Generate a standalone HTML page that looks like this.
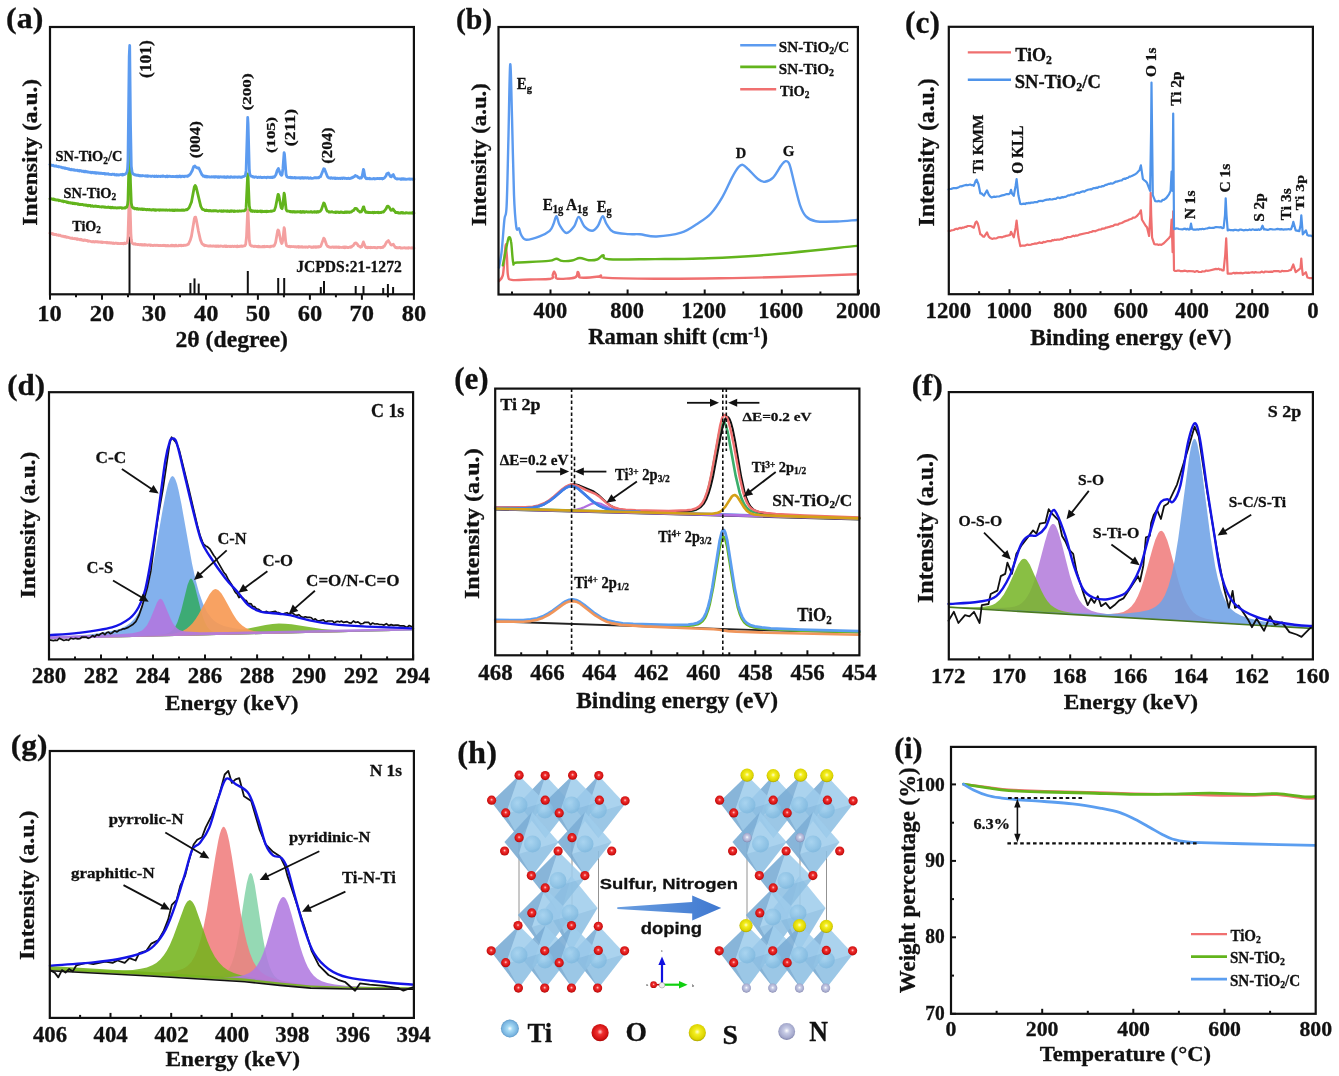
<!DOCTYPE html>
<html><head><meta charset="utf-8"><style>
html,body{margin:0;padding:0;background:#fff;}
svg{display:block;filter:blur(0.4px);}
</style></head><body>
<svg width="1339" height="1076" viewBox="0 0 1339 1076">
<rect width="1339" height="1076" fill="#fff"/>
<line x1="129.5" y1="294.3" x2="129.5" y2="236.6" stroke="#111" stroke-width="2" />
<line x1="190.4" y1="294.3" x2="190.4" y2="283" stroke="#111" stroke-width="2" />
<line x1="194.5" y1="294.3" x2="194.5" y2="278.4" stroke="#111" stroke-width="2" />
<line x1="198.7" y1="294.3" x2="198.7" y2="283.6" stroke="#111" stroke-width="2" />
<line x1="247.8" y1="294.3" x2="247.8" y2="271" stroke="#111" stroke-width="2" />
<line x1="278.2" y1="294.3" x2="278.2" y2="278" stroke="#111" stroke-width="2" />
<line x1="284.2" y1="294.3" x2="284.2" y2="278" stroke="#111" stroke-width="2" />
<line x1="320.8" y1="294.3" x2="320.8" y2="287" stroke="#111" stroke-width="2" />
<line x1="324" y1="294.3" x2="324" y2="281" stroke="#111" stroke-width="2" />
<line x1="355.7" y1="294.3" x2="355.7" y2="286" stroke="#111" stroke-width="2" />
<line x1="363.5" y1="294.3" x2="363.5" y2="286" stroke="#111" stroke-width="2" />
<line x1="383.2" y1="294.3" x2="383.2" y2="288" stroke="#111" stroke-width="2" />
<line x1="387.9" y1="294.3" x2="387.9" y2="284" stroke="#111" stroke-width="2" />
<line x1="393.1" y1="294.3" x2="393.1" y2="287" stroke="#111" stroke-width="2" />
<path d="M50,233.1 L51.6,233.7 L52.4,233.5 L52.8,234.2 L53.6,233.9 L54,234.6 L54.4,234.3 L54.9,234.6 L56.1,234.4 L56.9,235.1 L58.1,235.2 L58.5,234.9 L58.9,235.5 L60.1,235.2 L60.5,235.9 L60.9,235.7 L62.5,236.4 L62.9,236.1 L64.2,236.8 L64.6,236.8 L65,236.4 L65.8,236.7 L66.2,237.3 L66.6,237 L67.4,237.1 L71.4,238.4 L72.2,238 L73,238.7 L74.3,238.7 L74.7,238.4 L75.1,238.9 L76.3,238.6 L77.1,239.4 L77.5,238.8 L77.9,239.4 L78.7,239.1 L79.9,239.8 L80.3,239.3 L80.7,239.7 L81.1,239.4 L81.5,240 L81.9,239.7 L82.8,240.3 L83.2,240.1 L83.6,240.5 L84.4,240 L84.8,240.4 L85.2,240.1 L86.4,240.7 L87.2,240.4 L87.6,241.1 L88,240.8 L88.4,241.3 L89.2,241 L92.1,241.8 L92.9,241.5 L93.3,241.8 L93.7,241.5 L94.5,242 L95.7,241.5 L96.5,241.9 L96.9,241.6 L97.7,242 L98.1,241.7 L98.5,242.1 L99.7,242 L100.5,242.3 L100.9,241.9 L101.4,241.9 L102.2,242.6 L102.6,242.1 L103.4,242.4 L105.8,242.4 L106.6,242.8 L107,242.3 L107.8,242.9 L108.6,242.6 L109,243 L109.8,242.6 L110.6,243.1 L111.1,242.7 L112.3,243.3 L112.7,243 L113.1,243.4 L113.5,242.9 L114.7,243.5 L115.9,243 L117.5,243.6 L117.9,243.2 L118.7,243.7 L119.5,243.7 L120.4,243.3 L121.2,243.7 L121.6,243.4 L123.2,243.5 L123.6,243.8 L124.4,243.1 L124.8,243.7 L125.6,243.6 L126,243.1 L126.4,243.2 L126.8,242.9 L127.6,240.7 L128,236.7 L129.2,195.7 L129.7,191.8 L130.9,233.5 L131.3,239.3 L131.7,242 L132.5,243.4 L134.1,244.2 L134.9,243.7 L135.3,244.3 L135.7,244 L136.5,244.4 L137.3,244.3 L137.7,244.7 L139,244.4 L139.4,244.8 L139.8,244.6 L140.2,244.8 L141,244.5 L141.8,245 L142.2,244.5 L143,245.1 L143.8,245.1 L144.2,244.5 L145,245.2 L145.4,244.6 L147.8,245.3 L148.3,244.8 L149.9,244.9 L150.3,245.6 L151.1,245 L151.5,245.3 L153.1,245.5 L155.1,245.2 L155.9,245.6 L156.7,245.2 L158.4,245.7 L158.8,245.4 L159.2,245.7 L160.4,245.4 L162,245.7 L162.8,245.4 L163.6,245.7 L164,245.2 L165.6,245.9 L166,245.5 L166.4,245.8 L168.1,245.3 L168.5,245.8 L170.5,245.8 L171.3,245.3 L171.7,245.7 L172.1,245.3 L172.9,245.8 L173.3,245.3 L174.1,245.3 L174.5,245.9 L175.3,245.3 L175.7,245.8 L176.2,245.3 L176.6,245.8 L177.8,245.9 L178.2,245.6 L178.6,245.8 L179,245.2 L179.4,245.7 L180.2,245.7 L180.6,245.3 L181.4,245.8 L181.8,245.2 L183,245.7 L183.8,245.2 L185,245.4 L187.1,244.8 L187.5,244.4 L188.3,244.3 L190.3,240.1 L191.5,236 L194.3,218.9 L194.8,217.4 L195.2,217.1 L195.6,217.2 L196.4,220.2 L198.4,231.1 L200.4,239.9 L202,243.7 L204.1,245.4 L204.5,245.1 L204.9,245.7 L205.3,245.4 L208.5,246.1 L208.9,245.8 L209.7,246.2 L210.5,245.7 L212.1,246.3 L213.4,245.8 L215.4,246.4 L215.8,245.9 L216.2,246.4 L216.6,246 L217.4,246.3 L217.8,245.9 L218.2,245.9 L218.6,246.4 L219,246 L220.2,246.3 L220.6,245.9 L221.4,246.2 L222.2,246.1 L223.1,246.6 L224.3,246 L225.1,246.4 L225.5,246 L225.9,246.6 L226.3,246.6 L226.7,246.1 L227.1,246.6 L227.5,246.3 L227.9,246.5 L228.7,246.2 L229.9,246.6 L230.3,246.2 L231.1,246.7 L232.4,246.1 L233.6,246.6 L234.8,246.2 L235.6,246.5 L236,246.2 L236.4,246.7 L237.2,246.1 L237.6,246.7 L238,246.2 L238.8,246.5 L241.7,246 L242.5,246.4 L244.1,245.8 L244.9,245.8 L245.7,244.2 L246.5,236.8 L247.7,209.8 L248.1,212.9 L249.3,240.3 L250.1,244.7 L251.4,246.1 L252.6,246 L253.8,246.6 L255,246.2 L256.6,246.6 L257,246.3 L257.8,246.7 L258.2,246.2 L258.6,246.8 L259.4,246.9 L259.8,246.5 L261.5,246.9 L262.3,246.5 L262.7,246.9 L263.1,246.6 L263.9,246.8 L264.3,246.3 L264.7,246.8 L266.7,246.4 L267.1,246.6 L267.5,246.3 L269.6,246.9 L270.4,246.2 L270.8,246.7 L271.6,246.1 L272,246.3 L272.8,245.9 L273.6,246.2 L274,245.5 L274.4,245.5 L275.6,242.4 L277.6,230.9 L278,230 L278.4,230.2 L278.9,231.4 L280.9,241.7 L281.7,243.5 L282.1,243.3 L282.9,239.5 L284.1,227.7 L284.5,228.7 L285.7,241.8 L286.5,245.6 L286.9,246 L288.6,246.6 L289.4,246.2 L290.2,246.9 L290.6,246.5 L292.6,246.7 L293.4,246.5 L294.6,246.9 L295.4,246.6 L296.6,247.1 L297,246.6 L297.9,246.9 L298.3,246.6 L298.7,247.3 L299.5,246.7 L300.7,247.1 L301.9,246.7 L302.3,247.2 L302.7,246.8 L303.9,247.3 L304.3,246.9 L305.1,246.9 L305.5,247.3 L306.8,246.8 L307.6,247.4 L308.4,246.7 L310,246.7 L311.2,247.3 L311.6,246.9 L312,247.4 L312.4,247 L313.6,247.4 L314,246.7 L315.2,247.4 L315.6,246.7 L316.5,247.3 L316.9,246.7 L318.5,247.2 L318.9,246.6 L319.3,246.9 L320.1,246.7 L320.9,245.9 L323.7,238.1 L324.5,239 L326.6,245 L327.8,246.6 L328.2,246.8 L328.6,246.5 L329.4,247.2 L330.2,247.3 L331,247.1 L331.4,247.4 L333,246.9 L333.8,247.5 L334.2,246.9 L334.7,247.3 L335.5,247 L335.9,247.4 L336.7,247 L337.5,247.4 L338.3,246.9 L339.1,247.6 L339.5,247.1 L341.5,247.5 L343.1,247 L343.5,247.6 L344.4,247 L344.8,247.7 L345.2,247.1 L345.6,247.6 L346,247 L346.4,247.3 L346.8,247.1 L347.2,247.5 L348.8,247.5 L350.4,246.8 L350.8,247.3 L351.6,246.9 L352,246.3 L353.3,245.5 L354.9,243.1 L356.1,243 L357.3,244.1 L358.1,245.7 L360.1,246.6 L360.5,247.2 L361.7,246.7 L363.4,241.9 L365.4,246.9 L366.2,247.6 L367,247.2 L367.4,247.7 L368.2,247.2 L368.6,247.6 L369,247.3 L369.8,247.6 L370.2,247.2 L370.6,247.7 L371,247.4 L372.7,247.7 L373.5,247.3 L374.3,247.5 L374.7,247.3 L376.3,247.9 L377.1,247.8 L377.9,247.3 L379.9,247.4 L380.3,247.7 L380.7,247.3 L381.6,247.7 L382.8,247 L383.2,247.2 L383.6,246.4 L384.4,246.1 L386.8,241.8 L388.4,240.6 L390.9,244.9 L391.7,245 L393.3,244.2 L394.9,246.9 L395.7,247.6 L396.5,247.3 L396.9,247.8 L397.7,247.7 L398.1,247.9 L399.7,247.4 L400.6,248.1 L401.4,247.8 L402.2,248.1 L404.6,247.6 L405.4,248.2 L406.6,247.8 L407.4,248.1 L407.8,247.9 L408.2,248.2 L408.6,247.7 L411.1,248.2 L411.9,247.6 L412.3,248 L413.5,247.8 L413.9,248.1" fill="none" stroke="#f4a0a0" stroke-width="2.8" stroke-linejoin="round" stroke-linecap="round" />
<path d="M50,198.8 L50.4,198.3 L50.8,198.8 L51.2,198.7 L52.4,199.3 L53.2,199 L53.6,199.6 L54,199.1 L54.9,199.8 L55.7,199.6 L56.1,200.1 L56.5,200.2 L56.9,199.9 L58.1,200 L58.9,200.8 L59.3,200.2 L62.5,201.4 L62.9,200.9 L63.7,201.8 L64.2,201.3 L65.8,201.9 L66.2,201.7 L67,202.5 L67.4,202 L67.8,202.6 L68.2,202.2 L68.6,202.9 L70.2,202.6 L70.6,203.1 L71.4,202.9 L72.2,203.5 L72.6,202.9 L73,203.6 L74.3,203.2 L75.1,203.9 L75.5,203.5 L76.7,203.6 L77.5,204.2 L77.9,203.7 L78.7,204.4 L79.5,204.6 L79.9,204.1 L80.7,204.7 L82.3,204.3 L83.6,205 L85.2,205 L86,205.4 L86.4,205 L87.2,205.7 L88,205.2 L88.4,205.9 L89.2,205.4 L90.4,205.5 L90.8,206.2 L91.2,205.9 L91.6,206.2 L92.5,205.7 L92.9,206.3 L93.7,206.5 L94.5,206.2 L94.9,206.4 L95.3,206 L95.7,206.3 L96.5,206.1 L96.9,206.5 L98.9,206.4 L99.7,206.9 L100.9,206.9 L101.4,206.6 L101.8,207.1 L102.6,206.6 L103.4,207 L104.6,206.8 L105,207.3 L105.4,207 L107,207.5 L107.4,207.2 L108.2,207.3 L108.6,207 L109.4,207.6 L110.2,207.1 L110.6,207.7 L111.1,207.4 L111.5,207.8 L112.3,207.3 L113.1,207.9 L113.5,207.6 L113.9,207.9 L115.1,207.6 L117.1,208.1 L117.9,207.7 L119.1,208 L119.5,207.7 L121.2,207.7 L122,208.3 L122.4,208 L124,208.2 L125.2,207.5 L125.6,207.9 L126,207.4 L126.8,207.2 L127.6,204.3 L128,200.2 L129.2,153.6 L129.7,149.4 L130.5,183 L131.3,203.1 L132.1,207 L133.3,208.1 L134.1,208 L134.5,208.8 L135.3,208.3 L136.5,209.1 L136.9,208.5 L137.3,208.5 L138.5,209.3 L139.4,208.9 L140.6,209.4 L141,209 L141.8,208.9 L142.2,209.4 L142.6,208.9 L143,209.6 L144.2,209.1 L145.4,209.7 L146.2,209.4 L146.6,209.9 L147.8,209.4 L148.7,209.9 L149.1,209.4 L151.5,210.1 L152.7,209.6 L153.1,209.8 L153.9,209.7 L154.3,210.2 L154.7,209.8 L155.5,210.3 L155.9,209.7 L156.3,210.3 L158,209.7 L159.2,210.3 L159.6,210.3 L160,209.7 L160.4,210 L162,209.9 L162.4,210.2 L163.2,209.8 L164.4,210.1 L164.8,209.9 L165.2,210.3 L165.6,209.9 L166,210.2 L166.9,209.9 L167.3,210.3 L167.7,210.1 L168.9,210.2 L169.7,209.9 L170.1,210.4 L171.7,210 L172.1,210.5 L172.9,210 L173.7,210.5 L174.1,210.1 L174.5,210.5 L175.3,210 L175.7,210.4 L176.2,210.1 L177,210.3 L177.4,209.9 L178.2,210.4 L178.6,210.2 L179.4,210.4 L179.8,210.1 L181,210.4 L181.8,209.9 L182.2,210.3 L183,210 L183.4,210.4 L184.2,210.1 L184.6,210.3 L186.3,209.5 L186.7,209.8 L187.1,209.8 L189.1,207.8 L191.5,202 L194.3,187 L195.2,185.4 L196,186.7 L196.4,188.1 L200.8,206.4 L202.4,209.4 L202.8,209.2 L203.2,209.7 L204.5,209.9 L204.9,210.5 L206.1,210.6 L206.5,210.1 L206.9,210.6 L207.7,210.3 L208.5,210.9 L208.9,210.5 L209.3,210.8 L209.7,210.4 L210.1,210.8 L210.5,210.5 L211.7,211 L213.4,210.7 L213.8,211 L214.2,210.7 L215,210.9 L215.8,210.6 L218.2,211.3 L219.8,210.7 L221,211.3 L221.8,210.8 L222.2,211.4 L223.1,211 L223.5,211.2 L223.9,210.8 L224.7,211.2 L225.9,210.9 L226.7,211.4 L227.5,210.8 L228.3,211.4 L229.1,211.1 L229.5,211.5 L230.3,211 L230.7,211.3 L231.1,210.8 L231.9,211.3 L232.8,210.9 L233.2,211.2 L233.6,211.1 L234,211.6 L234.4,210.9 L234.8,211.4 L235.2,211.1 L235.6,211.4 L237.2,211 L238,211.4 L239.6,210.9 L240.4,211.2 L241.2,211.2 L242.1,210.8 L244.5,210.8 L245.7,209.5 L246.1,207.4 L247.7,173.9 L248.1,177.2 L249.3,205.8 L250.1,209.9 L251,211 L251.4,210.6 L252.2,211.4 L252.6,210.8 L253,211.1 L253.8,211 L254.2,211.5 L255,211 L255.4,211.3 L255.8,211 L256.2,211.5 L257,211.7 L257.4,211.1 L257.8,211.5 L259.8,211.2 L260.3,211.5 L260.7,211.1 L261.1,211.8 L261.5,211.1 L261.9,211.8 L262.3,211.2 L263.9,211.6 L264.7,211.5 L265.1,211.2 L266.3,211.8 L266.7,211.1 L267.9,211.7 L268.3,211.4 L270.4,211.4 L270.8,211 L271.6,211.4 L272,211 L274,210.7 L274.4,210.4 L275.6,206.9 L278,194.5 L278.4,194.5 L278.9,195.8 L280.9,206.8 L281.3,208 L282.1,208.7 L282.9,204.5 L284.1,193.2 L284.5,194.4 L286.1,209.3 L286.9,211 L289,211.2 L290.6,211.9 L291,211.4 L291.4,211.9 L292.6,212 L293,211.4 L293.8,212 L294.2,211.5 L295,212.1 L295.4,211.6 L296.2,212.1 L297,211.6 L297.9,212 L298.7,211.7 L299.5,212.1 L300.3,211.5 L300.7,212.2 L301.1,211.7 L301.9,212.2 L302.7,211.6 L303.1,212.2 L303.5,211.7 L303.9,211.7 L304.3,212.2 L304.7,211.7 L305.1,212.2 L305.5,211.8 L306.3,211.7 L307.2,212 L308.4,211.8 L309.2,212.2 L310,212.2 L310.4,211.6 L311.6,211.7 L312,212.3 L314.4,211.6 L314.8,212.2 L315.2,211.8 L316.1,212.2 L316.5,211.7 L316.9,212.2 L317.3,211.7 L317.7,212 L318.1,211.6 L318.5,212.1 L318.9,211.7 L320.1,211.4 L321.3,209.9 L323.7,203 L324.1,203.1 L324.5,203.8 L326.6,209.9 L327.4,211.2 L328.6,211.5 L329,212.1 L329.8,211.9 L330.6,212.2 L332.2,211.7 L332.6,212.1 L334.7,212.3 L335.1,211.9 L335.5,212.5 L335.9,211.9 L336.3,212.4 L336.7,212 L337.1,212.4 L337.9,211.9 L338.7,212.5 L339.9,212.6 L340.3,211.9 L340.7,212.2 L341.1,212 L341.5,212.4 L341.9,212.2 L343.1,212.6 L344,212.5 L344.8,212 L345.2,212.5 L345.6,212 L346,212 L346.4,212.5 L346.8,212.1 L347.2,212.4 L347.6,211.9 L348.4,212.4 L348.8,211.9 L349.6,212.5 L350,211.9 L350.8,212.2 L352,211.6 L352.4,210.9 L353.7,210.4 L354.9,208.5 L355.3,208.7 L355.7,208.4 L356.9,208.9 L358.1,210.7 L359.3,211.3 L359.7,212 L361.3,211.9 L362.5,209.4 L363.4,206.8 L363.8,206.9 L364.6,210 L365.8,212.4 L367,212.1 L367.8,212.5 L368.2,212.3 L368.6,212.7 L369.4,212.4 L372.3,212.7 L372.7,212.3 L373.1,212.7 L373.5,212.4 L373.9,212.8 L374.3,212.2 L375.5,212.7 L375.9,212.3 L376.7,212.3 L377.5,212.6 L377.9,212.2 L378.7,212.3 L379.1,212.8 L380.3,212.3 L381.1,212.7 L382,212 L382.8,212.2 L383.2,211.7 L383.6,212 L386,208.9 L387.2,206.3 L388,206.1 L389.2,207.2 L390.9,210.3 L392.1,210.1 L392.9,209 L393.7,209.7 L394.1,210.9 L394.5,210.9 L395.7,212.6 L396.9,212.4 L397.7,212.8 L398.1,212.4 L398.5,213 L400.2,212.8 L400.6,213.1 L401,212.6 L401.8,212.5 L402.6,213 L403,212.5 L403.4,213 L403.8,212.8 L404.2,213.1 L405.4,213.1 L405.8,212.6 L408.6,213.2 L409.5,212.8 L410.7,213.2 L411.1,212.9 L411.9,213 L412.3,212.8 L412.7,213.2 L413.1,212.6 L413.5,213.1 L413.9,213" fill="none" stroke="#62b41c" stroke-width="2.8" stroke-linejoin="round" stroke-linecap="round" />
<path d="M50,164.5 L51.2,165.3 L52,165.2 L52.8,165.6 L53.2,165.2 L53.6,165.8 L54.4,166.1 L55.7,165.8 L56.1,166.2 L56.5,166 L56.9,166.5 L57.7,166.7 L58.5,166.5 L58.9,167 L59.7,166.8 L60.9,167.3 L61.7,167.2 L62.1,167.8 L63.7,167.7 L64.6,168.3 L65.4,168 L65.8,168.5 L66.6,168.4 L68.6,169.3 L69,168.8 L69.8,169.6 L71,169.8 L71.4,169.3 L71.8,169.8 L73,169.7 L73.5,170 L73.9,169.7 L74.3,170 L74.7,169.9 L75.1,170.4 L77.5,170.2 L77.9,170.8 L78.7,170.8 L79.1,170.4 L79.5,171 L79.9,170.5 L80.3,170.9 L81.1,170.7 L81.9,171.4 L82.8,171.1 L83.2,171.5 L83.6,171.2 L84,171.7 L84.8,171.2 L85.2,171.9 L85.6,171.3 L86.4,171.9 L86.8,171.5 L87.6,172.2 L88.4,171.9 L89.2,172.4 L90.4,172.2 L91.2,172.8 L91.6,172.8 L92.1,172.2 L93.3,172.8 L94.1,172.5 L94.5,172.9 L94.9,172.6 L95.3,173.2 L95.7,172.8 L96.5,173.2 L96.9,172.8 L97.3,173.2 L98.5,172.8 L98.9,173.3 L99.7,173.1 L100.1,173.5 L100.5,173.1 L100.9,173.3 L101.4,173.1 L102.2,173.7 L103,173.3 L103.8,173.7 L104.2,173.5 L104.6,174 L105,173.4 L105.4,174 L106.2,174.1 L107,173.6 L107.8,174.1 L108.2,173.7 L109,174.3 L110.6,174.3 L111.1,174.6 L112.7,174.1 L113.9,174.5 L114.3,174.3 L114.7,174.9 L115.1,174.7 L115.9,175 L116.3,174.5 L117.1,175.1 L117.9,174.6 L118.7,175.1 L120.4,174.5 L121.6,174.9 L122,174.4 L122.4,175 L122.8,174.3 L123.2,174.9 L123.6,174.4 L124,174.7 L124.8,174.5 L126.4,173.2 L127.2,171.3 L127.6,168.3 L128,159.6 L129.2,56.3 L129.7,45.5 L130.5,123.9 L131.3,166.1 L132.1,172.3 L132.9,173.7 L134.5,174.7 L134.9,174.6 L135.3,175.1 L135.7,174.9 L136.9,175.3 L137.3,175.1 L138.1,175.5 L138.5,175.2 L139.4,175.8 L139.8,175.5 L140.2,175.9 L140.6,175.7 L141,176 L141.4,175.7 L142.2,175.8 L142.6,175.5 L145.4,176.1 L145.8,175.7 L147,176.3 L147.4,175.6 L148.3,176.3 L148.7,175.9 L149.1,176.2 L150.3,176.1 L151.1,176.5 L152.3,176 L153.9,176.5 L154.3,176 L154.7,176.6 L156.3,176 L157.1,176.5 L158,176.5 L158.4,176.1 L160,176.5 L160.4,176.2 L160.8,176.5 L161.6,176.2 L162,176.5 L162.4,176 L162.8,176.4 L163.6,176 L164,176.3 L165.2,176.3 L165.6,176.7 L166.9,176 L167.3,176.7 L168.1,176.1 L168.9,176.6 L169.3,176.2 L171.3,176.7 L172.9,176.3 L174.9,176.6 L175.3,176.3 L176.2,176.8 L176.6,176.1 L177.4,176.8 L177.8,176.2 L178.2,176.7 L179,176.2 L179.4,176.6 L179.8,176.1 L180.2,176.7 L180.6,176.3 L181,176.8 L181.4,176.7 L181.8,176.2 L182.6,176.2 L183,176.6 L183.8,176.1 L184.2,176.1 L184.6,176.7 L185,176.2 L186.7,176.2 L187.1,176.5 L187.5,176 L188.3,176.1 L188.7,175.4 L189.1,175 L189.5,175.1 L189.9,174.3 L190.3,174.2 L192.3,170.5 L193.5,167 L193.9,166.4 L194.3,166.5 L194.8,165.9 L196.4,167.6 L197.2,167.6 L197.6,168.1 L198.8,168 L202,174.9 L202.4,174.9 L203.2,176.2 L204.1,176.4 L204.5,176 L204.9,176.7 L205.7,176.2 L206.5,176.9 L206.9,176.3 L207.7,177 L208.5,176.6 L208.9,176.9 L209.3,176.7 L209.7,177.1 L210.9,176.9 L211.3,176.6 L211.7,177 L213.8,176.7 L214.2,177.2 L215,176.6 L215.4,177.2 L217,176.7 L217.8,177.2 L218.2,176.8 L218.6,177.3 L219,176.8 L219.4,177.3 L219.8,176.8 L220.2,176.9 L220.6,176.7 L221.4,177 L223.5,176.9 L223.9,177.3 L224.3,176.7 L225.1,177.3 L225.9,176.9 L226.3,177.4 L226.7,176.8 L227.5,176.7 L228.3,177.3 L228.7,176.9 L229.5,177.3 L229.9,176.8 L230.3,176.8 L230.7,177.2 L231.1,176.8 L231.5,177.1 L231.9,176.9 L232.8,177.4 L233.6,177 L234.4,177.3 L234.8,176.8 L236.8,177.2 L237.2,176.9 L237.6,177.4 L238.8,176.8 L239.6,176.9 L240,177.3 L240.4,177 L241.7,177.3 L242.5,176.7 L243.3,176.7 L244.1,176.3 L245.3,175.5 L246.1,170.9 L247.7,117.5 L248.1,123.6 L249.3,168.8 L249.7,173.4 L250.1,174.9 L251,176.1 L252.2,176.4 L252.6,176.9 L253,176.7 L253.4,177.2 L254.2,176.9 L254.6,177.4 L255.4,176.9 L256.2,176.9 L257.4,177.6 L258.2,177.1 L259.8,177.5 L260.3,177 L261.9,177.6 L263.1,177.3 L263.9,177.5 L264.3,177.1 L264.7,177.4 L265.9,177.3 L266.3,177.7 L267.1,177.2 L270.4,177.5 L270.8,177.1 L271.2,177.4 L271.6,177.2 L272,177.7 L272.4,177.6 L272.8,177 L273.2,177.3 L274,176.7 L274.4,177 L276,174.5 L277.2,170.4 L278.4,168.4 L280.5,174.2 L281.3,175.3 L281.7,175.3 L282.1,174.6 L282.9,168.7 L284.1,152.7 L284.5,154.1 L286.1,174.5 L286.9,176.8 L288.2,177.4 L289.8,177.5 L290.2,177.2 L291,177.8 L291.4,177.4 L291.8,177.4 L292.2,177.9 L292.6,177.6 L293.8,177.9 L294.2,177.6 L294.6,177.9 L295,177.4 L295.4,178 L295.8,177.7 L296.2,177.9 L296.6,177.7 L297,178 L298.3,177.7 L299.1,178 L299.5,177.6 L300.3,178.2 L301.1,177.7 L301.5,178.2 L301.9,178.2 L302.3,177.6 L303.1,178.2 L303.5,177.7 L303.9,178.1 L304.3,177.8 L304.7,178.1 L305.9,177.7 L306.8,178.1 L307.6,177.6 L308.4,177.8 L308.8,178.3 L310,178.1 L310.4,177.7 L311.2,178.3 L312,178.3 L313.6,178.2 L314.4,177.6 L314.8,177.8 L315.2,177.6 L316.1,178 L317.3,177.6 L318.9,177.9 L319.3,177.2 L320.1,176.6 L320.5,176.7 L323.7,168.7 L324.5,169.1 L327.4,176.5 L328.6,177.8 L329.4,178 L329.8,177.8 L330.6,178.3 L331.4,177.7 L332.6,178.4 L334.2,177.9 L335.1,178.6 L335.5,178 L336.3,178.5 L337.5,178.1 L338.3,178.6 L339.1,178.2 L339.9,178.5 L340.3,178.2 L340.7,178.5 L341.9,178 L342.3,178.5 L342.7,178.5 L343.1,178 L344.4,178.1 L344.8,178.5 L345.2,178.1 L345.6,178.4 L346.4,178.3 L346.8,178.6 L348.8,178.1 L349.2,178.6 L350.8,178.3 L351.6,177.7 L352.4,177.9 L352.8,177.1 L353.3,177.4 L353.7,176.6 L354.1,176.7 L355.3,175.4 L355.7,175.8 L356.9,176.1 L358.1,177.3 L358.5,177.6 L358.9,177.5 L359.7,178.3 L360.5,177.7 L361.3,178 L362.1,176.5 L363.4,169.4 L363.8,170.2 L365,177.2 L366.2,178.7 L366.6,178.1 L367.4,178.3 L367.8,178.7 L368.2,178.4 L369,178.8 L369.4,178.8 L369.8,178.3 L370.2,178.7 L371.4,178.9 L372.7,178.9 L373.5,178.4 L374.3,179 L374.7,178.6 L375.5,178.9 L377.5,178.4 L378.7,178.7 L379.5,178.4 L379.9,178.8 L380.3,178.4 L380.7,178.6 L381.1,178.3 L381.6,178.6 L382,178.4 L382.4,178.9 L382.8,178.4 L383.2,178.6 L384,178 L384.4,178 L386,175.9 L386.8,173.7 L388.4,173 L390.4,176.6 L390.9,176.5 L391.3,176.8 L392.5,175.2 L393.3,174.6 L394.5,177.3 L395.7,178.5 L396.9,179.1 L397.3,178.6 L397.7,178.9 L399.7,178.8 L400.6,179.3 L401,179.3 L401.4,178.8 L402.2,179.3 L402.6,178.7 L403.4,178.7 L403.8,179.4 L405,178.8 L405.8,179.4 L409.5,178.8 L409.9,178.8 L410.3,179.4 L411.5,179 L412.7,179.4 L413.1,179 L413.9,179.2" fill="none" stroke="#5c9bf0" stroke-width="2.8" stroke-linejoin="round" stroke-linecap="round" />
<rect x="50" y="27" width="363.9" height="267.3" fill="none" stroke="#111" stroke-width="2.2"/>
<line x1="50" y1="294.3" x2="50" y2="299.8" stroke="#111" stroke-width="2.0" />
<line x1="102" y1="294.3" x2="102" y2="299.8" stroke="#111" stroke-width="2.0" />
<line x1="154" y1="294.3" x2="154" y2="299.8" stroke="#111" stroke-width="2.0" />
<line x1="206" y1="294.3" x2="206" y2="299.8" stroke="#111" stroke-width="2.0" />
<line x1="257.9" y1="294.3" x2="257.9" y2="299.8" stroke="#111" stroke-width="2.0" />
<line x1="309.9" y1="294.3" x2="309.9" y2="299.8" stroke="#111" stroke-width="2.0" />
<line x1="361.9" y1="294.3" x2="361.9" y2="299.8" stroke="#111" stroke-width="2.0" />
<line x1="413.9" y1="294.3" x2="413.9" y2="299.8" stroke="#111" stroke-width="2.0" />
<line x1="76" y1="294.3" x2="76" y2="297.3" stroke="#111" stroke-width="2.0" />
<line x1="128" y1="294.3" x2="128" y2="297.3" stroke="#111" stroke-width="2.0" />
<line x1="180" y1="294.3" x2="180" y2="297.3" stroke="#111" stroke-width="2.0" />
<line x1="231.9" y1="294.3" x2="231.9" y2="297.3" stroke="#111" stroke-width="2.0" />
<line x1="283.9" y1="294.3" x2="283.9" y2="297.3" stroke="#111" stroke-width="2.0" />
<line x1="335.9" y1="294.3" x2="335.9" y2="297.3" stroke="#111" stroke-width="2.0" />
<line x1="387.9" y1="294.3" x2="387.9" y2="297.3" stroke="#111" stroke-width="2.0" />
<text transform="translate(37.26,321.24) scale(0.24500,0.23088)" style="font-family:'Liberation Serif',serif;font-weight:bold;font-size:100px" fill="#111" stroke="#111" stroke-width="1.26" stroke-linejoin="round" >10</text>
<text transform="translate(89.74,321.23) scale(0.24500,0.23433)" style="font-family:'Liberation Serif',serif;font-weight:bold;font-size:100px" fill="#111" stroke="#111" stroke-width="1.25" stroke-linejoin="round" >20</text>
<text transform="translate(141.72,321.23) scale(0.24500,0.23433)" style="font-family:'Liberation Serif',serif;font-weight:bold;font-size:100px" fill="#111" stroke="#111" stroke-width="1.25" stroke-linejoin="round" >30</text>
<text transform="translate(194.07,321.23) scale(0.24500,0.23433)" style="font-family:'Liberation Serif',serif;font-weight:bold;font-size:100px" fill="#111" stroke="#111" stroke-width="1.25" stroke-linejoin="round" >40</text>
<text transform="translate(245.69,321.23) scale(0.24500,0.23433)" style="font-family:'Liberation Serif',serif;font-weight:bold;font-size:100px" fill="#111" stroke="#111" stroke-width="1.25" stroke-linejoin="round" >50</text>
<text transform="translate(297.80,321.23) scale(0.24500,0.23433)" style="font-family:'Liberation Serif',serif;font-weight:bold;font-size:100px" fill="#111" stroke="#111" stroke-width="1.25" stroke-linejoin="round" >60</text>
<text transform="translate(349.42,321.23) scale(0.24500,0.23433)" style="font-family:'Liberation Serif',serif;font-weight:bold;font-size:100px" fill="#111" stroke="#111" stroke-width="1.25" stroke-linejoin="round" >70</text>
<text transform="translate(401.77,321.23) scale(0.24500,0.23433)" style="font-family:'Liberation Serif',serif;font-weight:bold;font-size:100px" fill="#111" stroke="#111" stroke-width="1.25" stroke-linejoin="round" >80</text>
<text transform="translate(175.55,346.58) scale(0.23662,0.23407)" style="font-family:'Liberation Serif',serif;font-weight:bold;font-size:100px" fill="#111" stroke="#111" stroke-width="1.27" stroke-linejoin="round" >2θ (degree)</text>
<text transform="translate(36.77,225.71) rotate(-90) scale(0.23511,0.21556)" style="font-family:'Liberation Serif',serif;font-weight:bold;font-size:100px" fill="#111" stroke="#111" stroke-width="1.33" stroke-linejoin="round" >Intensity (a.u.)</text>
<text transform="translate(6.12,27.94) scale(0.31944,0.29333)" style="font-family:'Liberation Serif',serif;font-weight:bold;font-size:100px" fill="#111" stroke="#111" stroke-width="0.98" stroke-linejoin="round" >(a)</text>
<text transform="translate(55.58,161.49) scale(0.14381,0.15060)" style="font-family:'Liberation Serif',serif;font-weight:bold;font-size:100px" fill="#111" stroke="#111" stroke-width="2.04" stroke-linejoin="round" >SN-TiO<tspan style="font-size:65%;baseline-shift:-22%">2</tspan>/C</text>
<text transform="translate(63.58,197.89) scale(0.14438,0.15060)" style="font-family:'Liberation Serif',serif;font-weight:bold;font-size:100px" fill="#111" stroke="#111" stroke-width="2.03" stroke-linejoin="round" >SN-TiO<tspan style="font-size:65%;baseline-shift:-22%">2</tspan></text>
<text transform="translate(72.22,230.87) scale(0.14141,0.15181)" style="font-family:'Liberation Serif',serif;font-weight:bold;font-size:100px" fill="#111" stroke="#111" stroke-width="2.05" stroke-linejoin="round" >TiO<tspan style="font-size:65%;baseline-shift:-22%">2</tspan></text>
<text transform="translate(151.28,77.89) rotate(-90) scale(0.17356,0.16778)" style="font-family:'Liberation Serif',serif;font-weight:bold;font-size:100px" fill="#111" stroke="#111" stroke-width="1.76" stroke-linejoin="round" >(101)</text>
<text transform="translate(199.86,158.18) rotate(-90) scale(0.17115,0.15444)" style="font-family:'Liberation Serif',serif;font-weight:bold;font-size:100px" fill="#111" stroke="#111" stroke-width="1.84" stroke-linejoin="round" >(004)</text>
<text transform="translate(251.17,110.59) rotate(-90) scale(0.17212,0.13000)" style="font-family:'Liberation Serif',serif;font-weight:bold;font-size:100px" fill="#111" stroke="#111" stroke-width="1.99" stroke-linejoin="round" >(200)</text>
<text transform="translate(275.09,152.97) rotate(-90) scale(0.16683,0.12889)" style="font-family:'Liberation Serif',serif;font-weight:bold;font-size:100px" fill="#111" stroke="#111" stroke-width="2.03" stroke-linejoin="round" >(105)</text>
<text transform="translate(295.38,146.21) rotate(-90) scale(0.17635,0.15333)" style="font-family:'Liberation Serif',serif;font-weight:bold;font-size:100px" fill="#111" stroke="#111" stroke-width="1.82" stroke-linejoin="round" >(211)</text>
<text transform="translate(331.93,163.78) rotate(-90) scale(0.16875,0.15111)" style="font-family:'Liberation Serif',serif;font-weight:bold;font-size:100px" fill="#111" stroke="#111" stroke-width="1.88" stroke-linejoin="round" >(204)</text>
<text transform="translate(296.18,271.76) scale(0.15590,0.16765)" style="font-family:'Liberation Serif',serif;font-weight:bold;font-size:100px" fill="#111" stroke="#111" stroke-width="1.85" stroke-linejoin="round" >JCPDS:21-1272</text>
<path d="M499,281 C499.6,280.1 501.9,279.2 502.8,275.4 C503.7,271.6 504,263.2 504.5,258 C505,252.8 505.3,244.2 505.7,244.2 C506.1,244.2 506.6,252.8 507,258 C507.4,263.2 507.2,271.8 508,275.4 C508.8,279 508,279.2 511.7,279.9 C515.4,280.6 523.5,279.7 530,279.5 C536.5,279.3 547,279.4 550.8,278.7 C554.6,277.9 552.2,276.2 552.7,275 C553.2,273.8 553.6,271.4 554.1,271.4 C554.6,271.4 555.2,273.8 555.8,275 C556.4,276.2 554.3,278.3 557.5,278.7 C560.7,279.1 571.6,278.6 575,277.5 C578.4,276.4 576.9,272.4 577.6,272 C578.3,271.6 578.8,274.1 579.3,275 C579.8,275.9 577.6,277.4 580.9,277.6 C584.2,277.9 595.6,276.9 599,276.5 C602.4,276.1 600.1,275.2 601,275.4 C601.9,275.6 595.4,277.1 604.4,277.6 C613.4,278.2 635.7,278.6 655,278.7 C674.3,278.8 699.2,278.6 720,278.3 C740.8,278 757.2,277.7 780,277 C802.8,276.3 844.2,274.8 857,274.3" fill="none" stroke="#f07070" stroke-width="2.4" stroke-linejoin="round" stroke-linecap="round" />
<path d="M502.8,265.4 C503.4,262.6 505.2,253.2 506.2,248.6 C507.2,243.9 508,238.6 508.8,237.5 C509.6,236.4 510.4,237.6 511.1,241.9 C511.9,246.2 512.3,259.7 513.3,263.1 C514.3,266.5 511.4,262.9 517.3,262.5 C523.2,262.1 542.1,261.5 548.6,260.9 C555.1,260.3 554.2,258.7 556.4,258.7 C558.6,258.7 559.4,260.6 562,260.9 C564.6,261.2 569,261 572,260.5 C575,260 577,258.1 579.8,258 C582.6,257.9 585.8,259.9 588.7,260.2 C591.6,260.4 594.6,260.3 597,259.5 C599.4,258.7 601.2,255.3 603.2,255.3 C605.2,255.3 600.2,258.7 608.8,259.3 C617.4,259.9 639.8,259.2 655,259.1 C670.2,259 682.5,259.1 700,258.5 C717.5,257.9 733.8,257.6 760,255.5 C786.2,253.4 840.8,247.5 857,245.9" fill="none" stroke="#62b41c" stroke-width="2.4" stroke-linejoin="round" stroke-linecap="round" />
<path d="M499,267.6 C499.4,264.8 500.8,258.8 501.7,250.8 C502.6,242.8 503.6,227 504.4,219.6 C505.2,212.2 505.9,219.6 506.6,206.2 C507.3,192.8 507.8,162.9 508.4,139.3 C509,115.7 509.6,68.2 510.2,64.5 C510.8,60.8 511.4,95.2 512,117 C512.6,138.8 513.3,176.8 514,195 C514.7,213.2 515.5,220.6 516.2,226.3 C516.9,232 517.5,228.6 518,229 C518.5,229.4 518.6,227.5 519.1,228.5 C519.6,229.5 520.1,233.3 521.3,235.2 C522.5,237.1 523.2,239.5 526.2,239.7 C529.2,239.9 535.7,237.8 539.6,236.3 C543.5,234.8 547.4,232.8 549.7,230.8 C552,228.8 552.4,226.5 553.5,224.1 C554.6,221.7 555.4,216.1 556.4,216.3 C557.4,216.5 558,222.4 559.7,225.2 C561.4,228 564,232.8 566.4,233 C568.8,233.2 572.2,229 574.2,226.3 C576.2,223.6 577,216.9 578.7,216.9 C580.4,216.9 582.1,224 584.3,226.3 C586.5,228.6 589.9,230.8 592.1,230.8 C594.3,230.8 596,228.7 597.7,226.3 C599.5,223.9 601.1,216.7 602.6,216.3 C604.1,215.9 604.8,221.5 606.6,224.1 C608.4,226.7 609.6,230.2 613.3,231.9 C617,233.6 624.4,233.7 628.9,234.1 C633.4,234.5 635.4,233.9 640,234.3 C644.6,234.7 649.5,236.8 656.4,236.5 C663.2,236.2 674.2,234.8 681.1,232.7 C688,230.6 692.6,226.8 697.5,223.7 C702.4,220.5 706.6,218.2 710.7,213.8 C714.8,209.4 718.7,203.4 722.2,197.4 C725.8,191.4 729.3,182.7 732,177.6 C734.7,172.5 736.8,169.1 738.6,167 C740.4,164.9 741.1,164.4 742.7,164.8 C744.3,165.2 745.8,167 748.4,169.4 C751,171.8 755.5,177.2 758.3,179.3 C761,181.4 762.4,182.1 764.9,181.8 C767.4,181.5 770.4,180.3 773.1,177.6 C775.8,174.8 779.2,168 781.3,165.3 C783.3,162.6 784,161.3 785.4,161.2 C786.8,161.1 788,160.7 789.5,164.5 C791,168.3 792.7,177.3 794.5,184.2 C796.3,191 798.3,200.2 800.2,205.6 C802.1,210.9 803.4,213.7 806,216.3 C808.6,218.9 810.6,220.3 815.8,221.2 C821,222.1 830.4,221.7 837.2,221.5 C844.1,221.3 853.6,220.2 856.9,220" fill="none" stroke="#5c9bf0" stroke-width="2.4" stroke-linejoin="round" stroke-linecap="round" />
<rect x="498.5" y="27" width="359.4" height="267.5" fill="none" stroke="#111" stroke-width="2.2"/>
<line x1="550.5" y1="294.5" x2="550.5" y2="289.5" stroke="#111" stroke-width="2.0" />
<line x1="627.6" y1="294.5" x2="627.6" y2="289.5" stroke="#111" stroke-width="2.0" />
<line x1="704.7" y1="294.5" x2="704.7" y2="289.5" stroke="#111" stroke-width="2.0" />
<line x1="781.8" y1="294.5" x2="781.8" y2="289.5" stroke="#111" stroke-width="2.0" />
<line x1="858.9" y1="294.5" x2="858.9" y2="289.5" stroke="#111" stroke-width="2.0" />
<line x1="512" y1="294.5" x2="512" y2="291.5" stroke="#111" stroke-width="2.0" />
<line x1="589.1" y1="294.5" x2="589.1" y2="291.5" stroke="#111" stroke-width="2.0" />
<line x1="666.2" y1="294.5" x2="666.2" y2="291.5" stroke="#111" stroke-width="2.0" />
<line x1="743.3" y1="294.5" x2="743.3" y2="291.5" stroke="#111" stroke-width="2.0" />
<line x1="820.4" y1="294.5" x2="820.4" y2="291.5" stroke="#111" stroke-width="2.0" />
<text transform="translate(533.46,317.74) scale(0.22500,0.23134)" style="font-family:'Liberation Serif',serif;font-weight:bold;font-size:100px" fill="#111" stroke="#111" stroke-width="1.31" stroke-linejoin="round" >400</text>
<text transform="translate(610.34,317.74) scale(0.22500,0.23134)" style="font-family:'Liberation Serif',serif;font-weight:bold;font-size:100px" fill="#111" stroke="#111" stroke-width="1.31" stroke-linejoin="round" >800</text>
<text transform="translate(681.25,317.74) scale(0.22500,0.22794)" style="font-family:'Liberation Serif',serif;font-weight:bold;font-size:100px" fill="#111" stroke="#111" stroke-width="1.32" stroke-linejoin="round" >1200</text>
<text transform="translate(758.35,317.74) scale(0.22500,0.22794)" style="font-family:'Liberation Serif',serif;font-weight:bold;font-size:100px" fill="#111" stroke="#111" stroke-width="1.32" stroke-linejoin="round" >1600</text>
<text transform="translate(835.90,317.74) scale(0.22500,0.23134)" style="font-family:'Liberation Serif',serif;font-weight:bold;font-size:100px" fill="#111" stroke="#111" stroke-width="1.31" stroke-linejoin="round" >2000</text>
<text transform="translate(588.25,343.79) scale(0.22513,0.23871)" style="font-family:'Liberation Serif',serif;font-weight:bold;font-size:100px" fill="#111" stroke="#111" stroke-width="1.29" stroke-linejoin="round" >Raman shift (cm<tspan style="font-size:65%;baseline-shift:45%">-1</tspan>)</text>
<text transform="translate(486.01,225.89) rotate(-90) scale(0.22864,0.20444)" style="font-family:'Liberation Serif',serif;font-weight:bold;font-size:100px" fill="#111" stroke="#111" stroke-width="1.39" stroke-linejoin="round" >Intensity (a.u.)</text>
<text transform="translate(455.91,28.76) scale(0.29737,0.28778)" style="font-family:'Liberation Serif',serif;font-weight:bold;font-size:100px" fill="#111" stroke="#111" stroke-width="1.03" stroke-linejoin="round" >(b)</text>
<line x1="740.2" y1="45.2" x2="776.2" y2="45.2" stroke="#5c9bf0" stroke-width="2.6" />
<line x1="740.2" y1="66.9" x2="776.2" y2="66.9" stroke="#62b41c" stroke-width="2.6" />
<line x1="740.2" y1="89.2" x2="776.2" y2="89.2" stroke="#f07070" stroke-width="2.6" />
<text transform="translate(778.84,51.52) scale(0.15199,0.15542)" style="font-family:'Liberation Serif',serif;font-weight:bold;font-size:100px" fill="#111" stroke="#111" stroke-width="1.95" stroke-linejoin="round" >SN-TiO<tspan style="font-size:65%;baseline-shift:-22%">2</tspan>/C</text>
<text transform="translate(778.84,73.52) scale(0.15140,0.15542)" style="font-family:'Liberation Serif',serif;font-weight:bold;font-size:100px" fill="#111" stroke="#111" stroke-width="1.96" stroke-linejoin="round" >SN-TiO<tspan style="font-size:65%;baseline-shift:-22%">2</tspan></text>
<text transform="translate(780.01,95.51) scale(0.14444,0.14940)" style="font-family:'Liberation Serif',serif;font-weight:bold;font-size:100px" fill="#111" stroke="#111" stroke-width="2.04" stroke-linejoin="round" >TiO<tspan style="font-size:65%;baseline-shift:-22%">2</tspan></text>
<text transform="translate(516.80,89.27) scale(0.14949,0.15800)" style="font-family:'Liberation Serif',serif;font-weight:bold;font-size:100px" fill="#111" stroke="#111" stroke-width="1.95" stroke-linejoin="round" >E<tspan style="font-size:70%;baseline-shift:-28%">g</tspan></text>
<text transform="translate(542.70,209.62) scale(0.15149,0.16500)" style="font-family:'Liberation Serif',serif;font-weight:bold;font-size:100px" fill="#111" stroke="#111" stroke-width="1.90" stroke-linejoin="round" >E<tspan style="font-size:70%;baseline-shift:-28%">1g</tspan></text>
<text transform="translate(565.95,209.88) scale(0.15357,0.16634)" style="font-family:'Liberation Serif',serif;font-weight:bold;font-size:100px" fill="#111" stroke="#111" stroke-width="1.88" stroke-linejoin="round" >A<tspan style="font-size:70%;baseline-shift:-28%">1g</tspan></text>
<text transform="translate(596.71,211.96) scale(0.14646,0.16400)" style="font-family:'Liberation Serif',serif;font-weight:bold;font-size:100px" fill="#111" stroke="#111" stroke-width="1.93" stroke-linejoin="round" >E<tspan style="font-size:70%;baseline-shift:-28%">g</tspan></text>
<text transform="translate(735.81,158.30) scale(0.14462,0.13692)" style="font-family:'Liberation Serif',serif;font-weight:bold;font-size:100px" fill="#111" stroke="#111" stroke-width="2.13" stroke-linejoin="round" >D</text>
<text transform="translate(782.75,155.96) scale(0.15000,0.13939)" style="font-family:'Liberation Serif',serif;font-weight:bold;font-size:100px" fill="#111" stroke="#111" stroke-width="2.07" stroke-linejoin="round" >G</text>
<path d="M948.7,231 L950,230.9 L951.2,230.4 L953.8,230 L955.1,229.1 L956.4,228.7 L957.6,229.1 L958.9,228.3 L960.1,227.9 L961.4,228.3 L962.6,227.5 L963.9,227.6 L965.1,226.9 L966.4,226.8 L967.6,226 L970.1,226 L971.3,226.3 L973.8,227.7 L975.5,222.6 L976.6,221.5 L977.6,223.1 L978.5,226 L980.3,234.3 L981.5,234.8 L982.8,236.4 L984,236.8 L987,232.5 L988.7,236.6 L990.1,237.9 L991.5,238.6 L992.8,238.8 L994.2,238.3 L995.5,238.5 L996.8,238.2 L998.1,237.3 L1000.8,237 L1002.1,237.4 L1003.5,236.6 L1004.8,236.4 L1006.1,235.8 L1007.4,235.7 L1010.1,234.9 L1011,231.8 L1013.8,237.3 L1015.6,228 L1016.6,220.6 L1018.4,236.8 L1020.3,246.1 L1021.5,245.7 L1025.1,245.6 L1027.5,244.5 L1028.7,245 L1031.2,244.6 L1032.4,244.1 L1033.6,244 L1034.9,243.4 L1036.1,243.7 L1039.8,242.4 L1041,242.9 L1042.3,242.8 L1043.5,241.8 L1044.7,242.2 L1047.2,241.2 L1051,241.1 L1052.3,240.1 L1053.5,240.4 L1054.8,239.7 L1056.1,240 L1057.3,239.5 L1058.6,239.7 L1059.8,239.6 L1061.1,238.9 L1062.4,239.1 L1063.6,238.3 L1064.9,237.8 L1066.1,238 L1067.3,237.2 L1071,236.8 L1073.4,235.7 L1074.6,236.2 L1075.8,235.4 L1077,235.7 L1078.2,235.3 L1079.4,234.6 L1086.7,233 L1087.9,233 L1090.3,232 L1091.5,232 L1092.7,231.2 L1093.9,231 L1095.2,231.3 L1096.4,230.6 L1097.6,230.3 L1098.8,229.6 L1101.2,229.4 L1102.4,228.5 L1103.6,228.7 L1104.8,228.4 L1106,227.5 L1107.2,227.6 L1108.4,227.1 L1109.6,226.9 L1110.8,226.3 L1113.2,225.9 L1114.4,224.9 L1115.6,224.6 L1118,224.6 L1119.2,223.6 L1121.7,223 L1125.4,221.1 L1128,220.3 L1129.2,219.5 L1131.8,218.8 L1133,217.6 L1134.3,217.6 L1135.5,217.2 L1136.8,216.2 L1138.2,214.5 L1139.5,213.3 L1140.9,210.3 L1142,219.8 L1145.8,226 L1147,227.3 L1149.1,235.9 L1150.3,215 L1150.7,192.9 L1151.2,215 L1152.1,237.7 L1154.2,243.9 L1155.6,244.5 L1157,244.3 L1158.5,244.9 L1159.9,244.5 L1161.3,244.9 L1163.8,243.3 L1169,238 L1170.6,235.9 L1171.6,219.5 L1172.6,252.2 L1173.2,211.3 L1174,270.3 L1175.2,270.9 L1176.5,271 L1177.7,270.5 L1179,270.6 L1180.2,271.1 L1182.7,271.2 L1185.1,270.7 L1187.6,271.4 L1188.9,271 L1193.8,271.4 L1195,271.9 L1196.3,271.2 L1197.5,271.1 L1198.8,272 L1200,272 L1201.2,272 L1202.5,271.3 L1203.7,271.5 L1204.9,271.3 L1206.2,270.5 L1207.4,270.8 L1208.6,270.7 L1216,268.9 L1217.3,269.2 L1218.5,268.7 L1219.8,269.6 L1221,269.3 L1222.3,270.5 L1223.6,270.5 L1225.2,255 L1226.2,238.3 L1227.7,273.7 L1231.3,273.7 L1233.8,272.8 L1235,273.4 L1236.2,272.8 L1238.6,273.2 L1241,272.9 L1242.2,273.3 L1245.9,272.5 L1247.1,273 L1248.3,272.6 L1249.5,272.8 L1251.9,272.2 L1254.3,272.7 L1255.5,272 L1256.7,272.5 L1260.4,272.4 L1261.6,271.6 L1262.8,272.1 L1264,272.3 L1265.2,271.5 L1268.8,271.8 L1271.3,271.6 L1272.5,271.9 L1273.7,271.1 L1278.5,271 L1279.7,271.7 L1280.9,271.6 L1282.2,270.8 L1283.4,271.2 L1288.3,270.8 L1291,269.9 L1293.3,264.5 L1295.7,272.2 L1298.9,269.7 L1300.5,268 L1301.3,258.7 L1302,268 L1302.8,275 L1305.9,272.2 L1307.4,277.5 L1310.1,278.2 L1311.5,278 L1312.6,278.4" fill="none" stroke="#ef6f6f" stroke-width="2.2" stroke-linejoin="round" stroke-linecap="round" />
<path d="M948.7,189.5 L950,189 L951.2,188.9 L953.8,188 L956.4,188.1 L958.9,187.2 L960.1,186.4 L961.4,186.4 L963.9,185.5 L966.4,184.9 L967.6,185.2 L970.1,184.5 L971.3,185.1 L972.6,185.1 L973.8,185.8 L975.5,181.1 L976.6,179.7 L978.5,184.2 L980.3,193.3 L981.5,193.4 L982.8,194.6 L984,195.5 L987,190.4 L988.7,194.5 L990.1,196.4 L991.5,197.5 L994.2,196.6 L995.5,197 L996.8,196.5 L998.1,196.5 L999.5,196.3 L1002.1,195.4 L1003.5,195.2 L1006.1,194.2 L1007.4,194 L1008.8,194.1 L1010.1,193.1 L1011,189.8 L1012,193.6 L1013.8,195.8 L1015.6,186 L1016.6,179.1 L1018.4,195.3 L1020.3,204 L1021.5,204.1 L1023.9,203.6 L1025.1,204.1 L1026.3,203.2 L1027.5,203.3 L1028.7,202.9 L1029.9,203.1 L1031.2,202.6 L1033.6,202.6 L1034.9,202 L1037.3,202.1 L1038.6,201.1 L1041,200.8 L1042.3,201.1 L1044.7,200.2 L1047.2,199.7 L1048.5,199.7 L1049.7,199.1 L1051,199.5 L1052.3,199.4 L1054.8,198.8 L1056.1,198.8 L1057.3,197.7 L1058.6,197.7 L1059.8,198.1 L1062.4,197.1 L1063.6,197.3 L1064.9,196.8 L1066.1,196.6 L1067.3,195.8 L1068.5,195.4 L1069.7,195.3 L1071,194.7 L1072.2,194.5 L1073.4,194.7 L1075.8,193.2 L1078.2,192.6 L1079.4,192.9 L1080.6,192.1 L1083.1,191.2 L1084.3,191.7 L1085.5,190.8 L1087.9,189.8 L1090.3,189.2 L1091.5,189.3 L1092.7,188.5 L1093.9,188.1 L1095.2,188.2 L1096.4,187.6 L1097.6,187.9 L1098.8,186.8 L1101.2,186.7 L1102.4,186 L1103.6,186.2 L1104.8,185.3 L1106,184.8 L1107.2,184.6 L1108.4,183.9 L1109.6,183.9 L1110.8,183.3 L1112,183.6 L1113.2,183.2 L1115.6,181.7 L1116.8,181.6 L1120.4,180.5 L1121.7,180.5 L1122.9,179.3 L1124.2,178.6 L1125.4,178.9 L1126.7,178 L1128,177.8 L1129.2,176.7 L1130.5,176.6 L1131.8,175.9 L1134.3,174.8 L1136.8,173.1 L1138.2,171.5 L1139.5,170.3 L1140.9,165.3 L1142.9,179 L1144.3,180.3 L1145.6,181.2 L1147,182.8 L1150.1,190.9 L1151.1,130 L1151.5,82.5 L1152.8,195.1 L1155.2,201.1 L1157.6,201.3 L1158.9,200.9 L1160.1,201.5 L1161.3,201.5 L1162.5,199.9 L1163.8,199.9 L1166.3,198 L1169,194.3 L1170.6,190.9 L1171.6,171.5 L1172.1,189.7 L1172.6,190.9 L1173.2,113.6 L1174,229.1 L1176.5,228.4 L1177.7,228.5 L1178.9,229 L1182.6,229.4 L1183.8,228.8 L1185.1,228.7 L1186.3,229.5 L1187.5,228.8 L1188.8,229.6 L1190,229.3 L1191,223.6 L1192,229 L1193.3,229.6 L1196,229.6 L1197.3,229.3 L1198.7,229.6 L1200,229 L1201.2,229.3 L1202.5,228.8 L1203.7,229.2 L1206.2,228.5 L1207.4,228.4 L1208.6,227.8 L1209.9,227.7 L1211.1,228 L1212.3,227.8 L1213.6,227.9 L1216,227 L1219.8,227.3 L1221,227.1 L1222.3,228.1 L1223.6,228 L1225,215 L1225.7,198.4 L1226.5,215 L1227.7,230.4 L1229.1,229.7 L1230.4,230.1 L1231.8,230 L1233.2,230.4 L1234.5,229.9 L1235.9,229.9 L1238.4,230.5 L1239.7,229.6 L1240.9,229.6 L1243.4,230.3 L1245.9,229.8 L1247.2,230.2 L1248.5,230 L1249.7,229.4 L1251,230.1 L1252.2,229.4 L1253.5,229.5 L1254.7,230 L1256,229.6 L1257.2,229.9 L1258.5,229.3 L1259.7,229.9 L1261,229.2 L1262.5,225.7 L1264,229.5 L1265.2,229.3 L1267.7,229.8 L1268.9,229.6 L1270.2,229 L1272.6,229.4 L1275.1,229.5 L1277.5,228.9 L1278.8,229.1 L1280,229.6 L1281.2,229.1 L1283.7,229.6 L1284.9,229.3 L1287.4,229.3 L1288.6,229 L1289.9,229.5 L1291.1,229.1 L1292.5,225.4 L1293.3,221.9 L1295.7,230.4 L1299.3,231.1 L1300.6,225 L1301.3,215.3 L1302.8,234.3 L1305.9,230.3 L1307.4,235.1 L1308.8,235.7 L1310.1,235.5 L1311.5,235.8 L1312.6,236.5" fill="none" stroke="#4f94ea" stroke-width="2.2" stroke-linejoin="round" stroke-linecap="round" />
<rect x="948.8" y="26.8" width="364.1" height="267.4" fill="none" stroke="#111" stroke-width="2.2"/>
<line x1="1009.5" y1="294.2" x2="1009.5" y2="289.2" stroke="#111" stroke-width="2.0" />
<line x1="1070.2" y1="294.2" x2="1070.2" y2="289.2" stroke="#111" stroke-width="2.0" />
<line x1="1130.8" y1="294.2" x2="1130.8" y2="289.2" stroke="#111" stroke-width="2.0" />
<line x1="1191.5" y1="294.2" x2="1191.5" y2="289.2" stroke="#111" stroke-width="2.0" />
<line x1="1252.2" y1="294.2" x2="1252.2" y2="289.2" stroke="#111" stroke-width="2.0" />
<line x1="979.1" y1="294.2" x2="979.1" y2="291.2" stroke="#111" stroke-width="2.0" />
<line x1="1039.8" y1="294.2" x2="1039.8" y2="291.2" stroke="#111" stroke-width="2.0" />
<line x1="1100.5" y1="294.2" x2="1100.5" y2="291.2" stroke="#111" stroke-width="2.0" />
<line x1="1161.2" y1="294.2" x2="1161.2" y2="291.2" stroke="#111" stroke-width="2.0" />
<line x1="1221.9" y1="294.2" x2="1221.9" y2="291.2" stroke="#111" stroke-width="2.0" />
<line x1="1282.6" y1="294.2" x2="1282.6" y2="291.2" stroke="#111" stroke-width="2.0" />
<text transform="translate(925.54,317.76) scale(0.22800,0.22206)" style="font-family:'Liberation Serif',serif;font-weight:bold;font-size:100px" fill="#111" stroke="#111" stroke-width="1.33" stroke-linejoin="round" >1200</text>
<text transform="translate(986.23,317.76) scale(0.22800,0.22206)" style="font-family:'Liberation Serif',serif;font-weight:bold;font-size:100px" fill="#111" stroke="#111" stroke-width="1.33" stroke-linejoin="round" >1000</text>
<text transform="translate(1053.18,317.75) scale(0.22800,0.22537)" style="font-family:'Liberation Serif',serif;font-weight:bold;font-size:100px" fill="#111" stroke="#111" stroke-width="1.32" stroke-linejoin="round" >800</text>
<text transform="translate(1113.86,317.75) scale(0.22800,0.22537)" style="font-family:'Liberation Serif',serif;font-weight:bold;font-size:100px" fill="#111" stroke="#111" stroke-width="1.32" stroke-linejoin="round" >600</text>
<text transform="translate(1174.78,317.75) scale(0.22800,0.22537)" style="font-family:'Liberation Serif',serif;font-weight:bold;font-size:100px" fill="#111" stroke="#111" stroke-width="1.32" stroke-linejoin="round" >400</text>
<text transform="translate(1235.12,317.75) scale(0.22800,0.22537)" style="font-family:'Liberation Serif',serif;font-weight:bold;font-size:100px" fill="#111" stroke="#111" stroke-width="1.32" stroke-linejoin="round" >200</text>
<text transform="translate(1307.20,317.75) scale(0.22800,0.22537)" style="font-family:'Liberation Serif',serif;font-weight:bold;font-size:100px" fill="#111" stroke="#111" stroke-width="1.32" stroke-linejoin="round" >0</text>
<text transform="translate(1030.23,344.96) scale(0.23380,0.22556)" style="font-family:'Liberation Serif',serif;font-weight:bold;font-size:100px" fill="#111" stroke="#111" stroke-width="1.31" stroke-linejoin="round" >Binding energy (eV)</text>
<text transform="translate(934.16,226.51) rotate(-90) scale(0.23706,0.22111)" style="font-family:'Liberation Serif',serif;font-weight:bold;font-size:100px" fill="#111" stroke="#111" stroke-width="1.31" stroke-linejoin="round" >Intensity (a.u.)</text>
<text transform="translate(905.05,32.51) scale(0.31359,0.30889)" style="font-family:'Liberation Serif',serif;font-weight:bold;font-size:100px" fill="#111" stroke="#111" stroke-width="0.96" stroke-linejoin="round" >(c)</text>
<line x1="967.8" y1="52.4" x2="1011" y2="52.4" stroke="#ef6f6f" stroke-width="2.4" />
<line x1="967.8" y1="79.8" x2="1011" y2="79.8" stroke="#4f94ea" stroke-width="2.4" />
<text transform="translate(1015.24,61.02) scale(0.18081,0.19880)" style="font-family:'Liberation Serif',serif;font-weight:bold;font-size:100px" fill="#111" stroke="#111" stroke-width="1.58" stroke-linejoin="round" >TiO<tspan style="font-size:65%;baseline-shift:-22%">2</tspan></text>
<text transform="translate(1014.67,87.73) scale(0.18562,0.19759)" style="font-family:'Liberation Serif',serif;font-weight:bold;font-size:100px" fill="#111" stroke="#111" stroke-width="1.57" stroke-linejoin="round" >SN-TiO<tspan style="font-size:65%;baseline-shift:-22%">2</tspan>/C</text>
<text transform="translate(983.00,173.31) rotate(-90) scale(0.15303,0.15217)" style="font-family:'Liberation Serif',serif;font-weight:bold;font-size:100px" fill="#111" stroke="#111" stroke-width="1.97" stroke-linejoin="round" >Ti KMM</text>
<text transform="translate(1023.17,173.77) rotate(-90) scale(0.15410,0.16418)" style="font-family:'Liberation Serif',serif;font-weight:bold;font-size:100px" fill="#111" stroke="#111" stroke-width="1.89" stroke-linejoin="round" >O KLL</text>
<text transform="translate(1156.41,77.07) rotate(-90) scale(0.15380,0.14706)" style="font-family:'Liberation Serif',serif;font-weight:bold;font-size:100px" fill="#111" stroke="#111" stroke-width="1.99" stroke-linejoin="round" >O 1s</text>
<text transform="translate(1181.37,105.81) rotate(-90) scale(0.15392,0.14444)" style="font-family:'Liberation Serif',serif;font-weight:bold;font-size:100px" fill="#111" stroke="#111" stroke-width="2.01" stroke-linejoin="round" >Ti 2p</text>
<text transform="translate(1195.46,219.31) rotate(-90) scale(0.15549,0.13881)" style="font-family:'Liberation Serif',serif;font-weight:bold;font-size:100px" fill="#111" stroke="#111" stroke-width="2.04" stroke-linejoin="round" >N 1s</text>
<text transform="translate(1230.25,192.58) rotate(-90) scale(0.15531,0.15075)" style="font-family:'Liberation Serif',serif;font-weight:bold;font-size:100px" fill="#111" stroke="#111" stroke-width="1.96" stroke-linejoin="round" >C 1s</text>
<text transform="translate(1264.12,221.77) rotate(-90) scale(0.15367,0.14651)" style="font-family:'Liberation Serif',serif;font-weight:bold;font-size:100px" fill="#111" stroke="#111" stroke-width="2.00" stroke-linejoin="round" >S 2p</text>
<text transform="translate(1290.60,220.31) rotate(-90) scale(0.15495,0.14930)" style="font-family:'Liberation Serif',serif;font-weight:bold;font-size:100px" fill="#111" stroke="#111" stroke-width="1.97" stroke-linejoin="round" >Ti 3s</text>
<text transform="translate(1303.53,210.22) rotate(-90) scale(0.15806,0.11778)" style="font-family:'Liberation Serif',serif;font-weight:bold;font-size:100px" fill="#111" stroke="#111" stroke-width="2.18" stroke-linejoin="round" >Ti 3p</text>
<path d="M49,637.3 L70,636.1 L87,634.7 L100.5,633.1 L111.5,631.1 L119.5,628.9 L125.5,626.3 L130.5,622.8 L135,618.1 L138.5,612.6 L142,605.2 L145,596.9 L148,586.5 L151,573.9 L154,559.2 L163,507.8 L166,492.4 L168,484.3 L169.5,479.9 L171,477.1 L172.5,476.1 L174,477 L175.5,479.7 L177,484.1 L178.5,489.9 L181.5,504.6 L192,563.4 L195.5,579.4 L199,592.4 L203,603.8 L207,611.9 L211.5,618.1 L214,620.5 L217,622.7 L220.5,624.5 L224,625.9 L234,628.3 L247.5,630 L265,631 L287.5,631.5 L317,631.5 L413,630 L413,630.5 L49,639Z" fill="#78aaeb" stroke="none" fill-opacity="0.92"/>
<path d="M49,638.9 L169.5,635.9 L207,634.4 L219,633.3 L229.5,632 L241,630 L265.5,625 L272.5,624 L279,623.6 L285,623.7 L291.5,624.3 L322,629 L341,630.6 L365.5,631.1 L413,630.3 L413,630.5 L49,639Z" fill="#79b82a" stroke="none" fill-opacity="0.92"/>
<path d="M49,638.9 L111.5,637.3 L142.5,636.1 L160,634.8 L165,634 L168.5,633 L171,631.6 L173.5,629.2 L175.5,626.3 L177.5,622.1 L181,611.2 L187.5,585.1 L189.5,580 L190.5,578.8 L191,578.7 L191.5,578.8 L192.5,579.9 L194.5,584.9 L201,610.8 L203,617.4 L205,622.6 L207,626.4 L209.5,629.4 L212,631.2 L215.5,632.5 L220.5,633.3 L228,633.7 L253,633.8 L413,630.4 L413,630.5 L49,639Z" fill="#37aa6a" stroke="none" fill-opacity="0.92"/>
<path d="M49,638.8 L112,637.1 L147.5,635.7 L168,634.3 L174,633.4 L179,632.3 L183,630.7 L186.5,628.7 L189.5,626.3 L192.5,623.2 L195.5,619.2 L198.5,614.4 L209.5,594.2 L212.5,590.5 L214,589.5 L215.5,589.1 L217,589.4 L218.5,590.2 L221.5,593.6 L224.5,598.6 L233,614.1 L236.5,619.4 L239.5,623 L242.5,625.8 L246,628.1 L249.5,629.7 L254,631 L259.5,631.8 L267,632.3 L292,632.5 L334.5,632 L413,630.4 L413,630.5 L49,639Z" fill="#f79a55" stroke="none" fill-opacity="0.92"/>
<path d="M49,636.3 L118,634.2 L132,633.2 L139,631.8 L141.5,630.7 L143.5,629.3 L147,625.2 L150.5,618.6 L157,602.6 L159,599.5 L160.5,598.8 L162,599.6 L163.5,601.9 L170.5,618.6 L172.5,622.5 L174.5,625.6 L177,628.2 L179.5,629.9 L182.5,631 L186,631.6 L200,632.2 L228,632 L413,627.9 L413,630.5 L49,639Z" fill="#b078e0" stroke="none" fill-opacity="0.92"/>
<path d="M49.3,639.8 L53.5,640.6 L55.3,640.1 L57.2,640.5 L59.3,638.2 L63.8,640.5 L66.2,639.7 L68.5,640.3 L70.9,638.2 L73.3,639 L75.6,638.3 L77.9,638.8 L80,638.7 L82,637 L84,637.2 L86.1,637 L88.2,638.3 L90.4,637.5 L92.5,635.5 L94.6,636.8 L96.8,634.6 L98.9,635.4 L100.9,633.7 L102.9,632.9 L104.9,634.7 L106.8,632.5 L108.6,632.1 L110.3,633.7 L111.9,633 L114.5,630.8 L117,631.9 L119.2,630.3 L121.3,629.7 L123.2,628.8 L124.9,628.8 L128.2,627.4 L133.2,624.2 L135.8,621.6 L139.1,615 L141.9,606.9 L147.3,587.7 L150.9,570.7 L157.5,520.3 L162.9,489.3 L169.7,443.3 L171.6,437.2 L176.2,442.8 L179.2,450 L189,489.7 L197.3,525.3 L200.2,535.9 L202.6,542.1 L203.8,544.3 L206.1,546.2 L207.3,546.6 L210,549.2 L213.8,555.5 L214.8,556.7 L223.4,571.6 L224.5,573.3 L225.7,574.4 L228.1,579.2 L231.7,584.7 L232.9,587.7 L234.9,591.5 L235.9,592.9 L236.7,593.2 L239,597.6 L240.5,595.9 L242,597.8 L243.4,598.6 L244.7,600.1 L246.3,600.6 L248.3,603.9 L249.7,603.7 L251.2,603.9 L252.8,606.6 L254.5,606.5 L256.4,608.8 L258.4,609.3 L262.3,612.2 L264.3,612.2 L266.5,611.4 L268.7,612.6 L275.2,611.3 L277.2,612.6 L278.9,612.7 L281.4,613.9 L283.3,614 L285,613.2 L287,612.7 L289.6,614.5 L291.2,612.5 L292.9,613.2 L294.8,614.8 L296.7,615.4 L298.8,614.7 L300.9,616.4 L303,617.6 L305.2,616.8 L307.3,617.4 L309.5,617.3 L311.4,617.8 L313.4,620 L315.3,618.8 L317.3,620.6 L319.3,620.9 L323.4,619.8 L325.6,622 L327.8,621 L332.5,621 L334.3,622.9 L336.1,621.7 L337.8,621.3 L339.6,621.9 L341.4,621 L343.3,622.4 L347.1,621.6 L349.1,622.9 L351.2,623.1 L353.4,621 L355.6,622.5 L358,621.9 L360.5,623.8 L363.1,623.5 L364.8,622.3 L368.5,622.3 L370.5,624.6 L372.6,623 L374.8,624 L377.1,623.8 L379.4,624.5 L381.7,624.5 L384.1,625.1 L386.4,623.7 L388.8,625.6 L391.1,624.6 L393.4,625.4 L395.7,625.1 L397.9,625.1 L400.1,625.9 L404.1,625.9 L405.9,627 L407.6,626.8 L409.2,625.5 L411.9,626.8 L413,628.1" fill="none" stroke="#111" stroke-width="1.7" stroke-linejoin="round" stroke-linecap="round" />
<path d="M49.3,635.2 C54.1,634.8 68,634.2 78.4,632.9 C88.8,631.6 103.4,629.8 111.9,627.4 C120.5,625 125.2,621.8 129.7,618.4 C134.1,615 136,612.1 138.6,607.3 C141.2,602.5 143.1,598.4 145.3,589.5 C147.5,580.6 149.8,567.2 152,553.8 C154.2,540.4 156.5,524.8 158.7,509.2 C160.9,493.6 163.5,471.4 165.4,460.1 C167.3,448.8 168.7,444.8 169.9,441.2 C171.1,437.6 171.4,438.3 172.5,438.5 C173.6,438.7 174.7,437.2 176.5,442.3 C178.3,447.4 180.6,458.3 183.2,469.1 C185.8,479.9 189.2,495.1 192.2,507 C195.2,518.9 198.1,532.1 201.1,540.4 C204.1,548.6 206,550.2 210,556.5 C214,562.8 220.7,572.3 225.3,578.2 C229.9,584.1 233.8,587.5 237.6,592 C241.4,596.5 244.5,601.9 248.3,605.2 C252.1,608.5 255.4,610.2 260.5,611.6 C265.6,613 274,613.1 278.9,613.7 C283.8,614.3 284.5,614.1 289.6,615.2 C294.7,616.3 302.4,618.8 309.5,620.3 C316.6,621.8 323.6,623.1 332.5,624.1 C341.4,625.1 349.7,625.7 363.1,626.4 C376.5,627.1 404.7,628.1 413,628.4" fill="none" stroke="#1414e6" stroke-width="2.4" stroke-linejoin="round" stroke-linecap="round" />
<rect x="49" y="392.2" width="364.1" height="267.2" fill="none" stroke="#111" stroke-width="2.2"/>
<line x1="49" y1="659.4" x2="49" y2="654.4" stroke="#111" stroke-width="2.0" />
<line x1="101" y1="659.4" x2="101" y2="654.4" stroke="#111" stroke-width="2.0" />
<line x1="153" y1="659.4" x2="153" y2="654.4" stroke="#111" stroke-width="2.0" />
<line x1="205" y1="659.4" x2="205" y2="654.4" stroke="#111" stroke-width="2.0" />
<line x1="257.1" y1="659.4" x2="257.1" y2="654.4" stroke="#111" stroke-width="2.0" />
<line x1="309.1" y1="659.4" x2="309.1" y2="654.4" stroke="#111" stroke-width="2.0" />
<line x1="361.1" y1="659.4" x2="361.1" y2="654.4" stroke="#111" stroke-width="2.0" />
<line x1="413.1" y1="659.4" x2="413.1" y2="654.4" stroke="#111" stroke-width="2.0" />
<line x1="75" y1="659.4" x2="75" y2="656.4" stroke="#111" stroke-width="2.0" />
<line x1="127" y1="659.4" x2="127" y2="656.4" stroke="#111" stroke-width="2.0" />
<line x1="179" y1="659.4" x2="179" y2="656.4" stroke="#111" stroke-width="2.0" />
<line x1="231.1" y1="659.4" x2="231.1" y2="656.4" stroke="#111" stroke-width="2.0" />
<line x1="283.1" y1="659.4" x2="283.1" y2="656.4" stroke="#111" stroke-width="2.0" />
<line x1="335.1" y1="659.4" x2="335.1" y2="656.4" stroke="#111" stroke-width="2.0" />
<line x1="387.1" y1="659.4" x2="387.1" y2="656.4" stroke="#111" stroke-width="2.0" />
<text transform="translate(31.75,682.96) scale(0.23000,0.22090)" style="font-family:'Liberation Serif',serif;font-weight:bold;font-size:100px" fill="#111" stroke="#111" stroke-width="1.33" stroke-linejoin="round" >280</text>
<text transform="translate(83.76,682.96) scale(0.23000,0.22090)" style="font-family:'Liberation Serif',serif;font-weight:bold;font-size:100px" fill="#111" stroke="#111" stroke-width="1.33" stroke-linejoin="round" >282</text>
<text transform="translate(135.55,682.96) scale(0.23000,0.22090)" style="font-family:'Liberation Serif',serif;font-weight:bold;font-size:100px" fill="#111" stroke="#111" stroke-width="1.33" stroke-linejoin="round" >284</text>
<text transform="translate(187.68,682.96) scale(0.23000,0.22090)" style="font-family:'Liberation Serif',serif;font-weight:bold;font-size:100px" fill="#111" stroke="#111" stroke-width="1.33" stroke-linejoin="round" >286</text>
<text transform="translate(239.69,682.96) scale(0.23000,0.22090)" style="font-family:'Liberation Serif',serif;font-weight:bold;font-size:100px" fill="#111" stroke="#111" stroke-width="1.33" stroke-linejoin="round" >288</text>
<text transform="translate(291.82,682.96) scale(0.23000,0.22090)" style="font-family:'Liberation Serif',serif;font-weight:bold;font-size:100px" fill="#111" stroke="#111" stroke-width="1.33" stroke-linejoin="round" >290</text>
<text transform="translate(343.84,682.96) scale(0.23000,0.22090)" style="font-family:'Liberation Serif',serif;font-weight:bold;font-size:100px" fill="#111" stroke="#111" stroke-width="1.33" stroke-linejoin="round" >292</text>
<text transform="translate(395.62,682.96) scale(0.23000,0.22090)" style="font-family:'Liberation Serif',serif;font-weight:bold;font-size:100px" fill="#111" stroke="#111" stroke-width="1.33" stroke-linejoin="round" >294</text>
<text transform="translate(164.94,709.63) scale(0.23222,0.21778)" style="font-family:'Liberation Serif',serif;font-weight:bold;font-size:100px" fill="#111" stroke="#111" stroke-width="1.33" stroke-linejoin="round" >Energy (keV)</text>
<text transform="translate(35.14,598.30) rotate(-90) scale(0.23495,0.20778)" style="font-family:'Liberation Serif',serif;font-weight:bold;font-size:100px" fill="#111" stroke="#111" stroke-width="1.36" stroke-linejoin="round" >Intensity (a.u.)</text>
<text transform="translate(7.16,394.83) scale(0.30965,0.30333)" style="font-family:'Liberation Serif',serif;font-weight:bold;font-size:100px" fill="#111" stroke="#111" stroke-width="0.98" stroke-linejoin="round" >(d)</text>
<text transform="translate(370.90,417.01) scale(0.17989,0.18806)" style="font-family:'Liberation Serif',serif;font-weight:bold;font-size:100px" fill="#111" stroke="#111" stroke-width="1.63" stroke-linejoin="round" >C 1s</text>
<text transform="translate(95.44,463.22) scale(0.17273,0.17727)" style="font-family:'Liberation Serif',serif;font-weight:bold;font-size:100px" fill="#111" stroke="#111" stroke-width="1.71" stroke-linejoin="round" >C-C</text>
<text transform="translate(86.57,572.97) scale(0.16513,0.16716)" style="font-family:'Liberation Serif',serif;font-weight:bold;font-size:100px" fill="#111" stroke="#111" stroke-width="1.81" stroke-linejoin="round" >C-S</text>
<text transform="translate(217.38,544.14) scale(0.16374,0.16364)" style="font-family:'Liberation Serif',serif;font-weight:bold;font-size:100px" fill="#111" stroke="#111" stroke-width="1.83" stroke-linejoin="round" >C-N</text>
<text transform="translate(262.46,565.88) scale(0.16705,0.16119)" style="font-family:'Liberation Serif',serif;font-weight:bold;font-size:100px" fill="#111" stroke="#111" stroke-width="1.83" stroke-linejoin="round" >C-O</text>
<text transform="translate(306.05,585.76) scale(0.17076,0.16866)" style="font-family:'Liberation Serif',serif;font-weight:bold;font-size:100px" fill="#111" stroke="#111" stroke-width="1.77" stroke-linejoin="round" >C=O/N-C=O</text>
<line x1="121.9" y1="469.1" x2="152" y2="489.2" stroke="#111" stroke-width="1.8" />
<path d="M158.7,493.6 L148.9,492.1 L153.5,485.1 Z" fill="#111"/>
<line x1="113" y1="580.5" x2="141.8" y2="597.6" stroke="#111" stroke-width="1.8" />
<path d="M148.7,601.7 L138.8,600.7 L143.1,593.5 Z" fill="#111"/>
<line x1="226.7" y1="550.4" x2="199.9" y2="574.7" stroke="#111" stroke-width="1.8" />
<path d="M194,580.1 L197.8,570.9 L203.5,577.2 Z" fill="#111"/>
<line x1="267.4" y1="571.3" x2="244.7" y2="588" stroke="#111" stroke-width="1.8" />
<path d="M238.3,592.7 L243.1,584 L248,590.8 Z" fill="#111"/>
<line x1="314.9" y1="590.7" x2="294.8" y2="608.4" stroke="#111" stroke-width="1.8" />
<path d="M288.8,613.7 L292.8,604.6 L298.3,610.9 Z" fill="#111"/>
<path d="M495.2,621.4 L767.7,630.4 L859.2,632.3" fill="none" stroke="#222" stroke-width="1.8" stroke-linejoin="round" stroke-linecap="round" />
<path d="M640.2,625.3 L669.7,626 L688.7,625.7 L694.2,625.1 L697.7,624.2 L700.2,623.1 L702.7,621 L704.7,618.3 L706.2,615.4 L708.2,609.9 L709.7,604.5 L713.2,587.3 L719.7,547.3 L721.7,539.3 L722.7,537.3 L723.7,536.9 L724.2,537.2 L725.2,539.1 L727.2,547 L734.2,590.3 L737.7,607.1 L739.7,613.7 L741.7,618.5 L744.2,622.3 L746.7,624.6 L749.7,626.2 L754.2,627.4 L761.2,628.5 L770.2,629.3 L800.2,630.6 L859.2,632.1" fill="none" stroke="#6ab81e" stroke-width="2.6" stroke-linejoin="round" stroke-linecap="round" />
<path d="M495.2,620 L523.2,620.1 L530.7,619.5 L537.2,618.3 L542.7,616.4 L548.2,613.5 L552.7,610.6 L562.2,603.5 L565.7,601.3 L569.2,599.9 L572.7,599.4 L576.2,600.1 L580.2,602.1 L584.2,604.9 L594.7,613.3 L601.2,617.5 L607.7,620.3 L615.2,622.2 L622.7,623.3 L633.2,624 L668.7,625 L688.2,624.6 L693.7,623.9 L697.7,622.8 L701.2,620.6 L703.7,617.6 L706.2,612.5 L708.2,606.4 L710.2,598.3 L712.2,587.9 L719.7,540.5 L721.7,532.4 L722.7,530.4 L723.7,530 L724.2,530.3 L725.2,532.3 L727.2,540.3 L734.7,588.1 L738.2,605.3 L740.2,612 L742.2,616.9 L744.7,620.9 L747.2,623.3 L750.2,625 L754.7,626.3 L761.7,627.4 L770.7,628.3 L800.7,629.7 L859.2,631.2" fill="none" stroke="#5b9ef0" stroke-width="2.8" stroke-linejoin="round" stroke-linecap="round" />
<path d="M495.2,621.6 L523.2,621.7 L530.7,621.1 L537.2,619.8 L542.7,617.9 L548.2,615.1 L552.7,612.1 L562.2,605.1 L565.7,602.9 L569.2,601.5 L572.7,601.1 L576.2,601.7 L580.2,603.7 L595.2,615.4 L602.7,619.9 L606.7,621.7 L611.2,623.1 L621.2,624.9 L644.7,626.4 L713.7,629.2 L719.2,629.7 L728.2,631.1 L736.2,631.6 L767.7,632.7 L859.2,634.7" fill="none" stroke="#f0955a" stroke-width="2.6" stroke-linejoin="round" stroke-linecap="round" />
<path d="M495.2,509.7 L859.2,519.6" fill="none" stroke="#222" stroke-width="1.6" stroke-linejoin="round" stroke-linecap="round" />
<path d="M495.2,508.1 L525.2,508.2 L532.7,507.5 L538.7,506.3 L544.2,504.2 L549.2,501.2 L553.7,497.8 L562.2,490.4 L565.7,487.9 L568.7,486.5 L571.7,486.1 L575.2,486.9 L578.7,489 L591.7,500.6 L598.7,505.5 L602.7,507.4 L606.7,508.8 L616.2,510.5 L632.2,511.6 L667.2,512.9 L859.2,518.4" fill="none" stroke="#3f7fe8" stroke-width="2.6" stroke-linejoin="round" stroke-linecap="round" />
<path d="M495.2,509.1 L859.2,519" fill="none" stroke="#b070e0" stroke-width="2.0" stroke-linejoin="round" stroke-linecap="round" />
<path d="M495.2,508.5 L555.2,510 L572.2,510 L576.7,509.5 L580.7,508.6 L584.2,507.3 L592.2,503.6 L594.7,502.9 L596.7,502.8 L600.7,503.8 L609.2,508.1 L613.7,509.9 L619.2,511.1 L626.2,511.7 L670.2,513.2 L859.2,518.4" fill="none" stroke="#b070e0" stroke-width="2.2" stroke-linejoin="round" stroke-linecap="round" />
<path d="M495.2,508.4 L605.7,511.3 L655.7,512.2 L682.7,511.8 L690.2,511.1 L695.2,509.9 L698.7,508.1 L701.7,505.1 L704.2,500.9 L706.7,494.6 L708.7,487.7 L711.2,476.7 L719.7,431 L721.7,424.4 L722.7,422.7 L723.7,422.2 L724.7,423 L725.7,425 L727.7,432.1 L735.7,475.9 L739.7,492.9 L741.7,498.9 L744.2,504.2 L746.7,507.8 L749.2,510 L752.7,511.8 L757.2,513 L763.7,513.9 L773.2,514.8 L802.7,516.4 L859.2,518.2" fill="none" stroke="#3aae6c" stroke-width="2.6" stroke-linejoin="round" stroke-linecap="round" />
<path d="M495.2,508 L513.7,508.1 L524.7,507.9 L532.2,507.2 L538.7,505.8 L544.2,503.7 L549.2,500.7 L554.2,496.9 L563.2,489.1 L566.7,486.5 L570.2,484.8 L573.7,484.2 L576.2,484.5 L579.2,485.3 L593.7,491.5 L598.2,494.7 L606.2,502.3 L610.2,505.5 L614.7,507.9 L620.2,509.6 L626.7,510.5 L636.7,511.1 L668.7,511.8 L687.2,511.2 L692.7,510.6 L696.7,509.5 L700.7,507.2 L703.7,503.9 L706.2,499.6 L708.7,493.2 L710.7,486.5 L713.2,475.9 L720.7,435.9 L722.7,426.7 L725.2,418.9 L726.2,417.4 L727.2,416.8 L728.2,417.1 L729.7,419.3 L731.2,423.4 L732.7,429 L735.2,441.5 L741.2,476.8 L744.7,492.6 L746.7,499 L748.7,503.6 L750.7,506.8 L753.2,509.3 L756.2,511.1 L760.7,512.5 L767.2,513.6 L776.7,514.6 L805.2,516.3 L859.2,518.1" fill="none" stroke="#111" stroke-width="2.0" stroke-linejoin="round" stroke-linecap="round" />
<path d="M495.2,507.2 L525.2,507.2 L532.7,506.6 L538.7,505.3 L544.2,503.2 L549.2,500.2 L553.7,496.7 L562.2,489.2 L565.7,486.6 L569.2,485 L572.2,484.5 L574.7,484.9 L577.2,485.7 L585.7,489.9 L594.7,493.6 L598.7,496.2 L606.2,502.7 L609.7,505.2 L614.2,507.5 L619.2,508.9 L625.7,509.8 L635.7,510.3 L668.7,511 L686.7,510.3 L691.7,509.7 L695.7,508.5 L699.2,506.4 L702.2,503.1 L704.7,498.5 L707.2,491.6 L709.2,484.2 L711.7,472.6 L720.2,425.2 L721.7,419.5 L722.7,416.9 L723.7,415.3 L724.7,414.9 L725.7,415.4 L727.2,418.1 L728.7,422.4 L730.7,430.1 L733.7,444.4 L739.7,477.2 L743.2,492.4 L745.2,498.6 L747.2,503.2 L749.2,506.3 L751.7,508.8 L754.7,510.5 L759.2,511.9 L766.2,513 L775.7,513.9 L804.7,515.5 L859.2,517.4" fill="none" stroke="#f07070" stroke-width="2.4" stroke-linejoin="round" stroke-linecap="round" />
<path d="M495.2,508.1 L525.2,508.2 L532.7,507.5 L538.7,506.3 L544.2,504.2 L549.2,501.2 L553.7,497.8 L562.2,490.4 L565.7,487.9 L568.7,486.5 L571.7,486.1 L574.7,486.7 L578.2,488.7 L593.7,502.2 L598.2,505.2 L603.2,507.6 L608.7,509.3 L615.7,510.5 L624.7,511.2 L639.7,511.9" fill="none" stroke="#3f7fe8" stroke-width="2.6" stroke-linejoin="round" stroke-linecap="round" />
<path d="M495.2,508.5 L674.2,513.3 L700.2,513.8 L712.2,513.7 L717.7,512.8 L719.7,512 L721.7,510.7 L725.2,506.9 L731.7,496.8 L733.2,495.4 L734.7,495 L736.2,495.7 L737.7,497.3 L743.7,506.9 L746.7,510.6 L750.2,513.2 L754.2,514.5 L761.2,515.2 L776.2,515.9 L859.2,518.4" fill="none" stroke="#d4a017" stroke-width="2.6" stroke-linejoin="round" stroke-linecap="round" />
<rect x="495.2" y="388.6" width="364.2" height="266.7" fill="none" stroke="#111" stroke-width="2.2"/>
<line x1="571.6" y1="388.6" x2="571.6" y2="655.3" stroke="#111" stroke-width="1.6" stroke-dasharray="3.5,2.5"/>
<line x1="722.8" y1="388.6" x2="722.8" y2="655.3" stroke="#111" stroke-width="1.6" stroke-dasharray="3.5,2.5"/>
<line x1="574.5" y1="456.7" x2="574.5" y2="510.6" stroke="#111" stroke-width="1.6" stroke-dasharray="3.5,2.5"/>
<line x1="726.3" y1="388.6" x2="726.3" y2="451" stroke="#111" stroke-width="1.6" stroke-dasharray="3.5,2.5"/>
<line x1="547.2" y1="655.3" x2="547.2" y2="650.3" stroke="#111" stroke-width="2.0" />
<line x1="599.3" y1="655.3" x2="599.3" y2="650.3" stroke="#111" stroke-width="2.0" />
<line x1="651.3" y1="655.3" x2="651.3" y2="650.3" stroke="#111" stroke-width="2.0" />
<line x1="703.3" y1="655.3" x2="703.3" y2="650.3" stroke="#111" stroke-width="2.0" />
<line x1="755.3" y1="655.3" x2="755.3" y2="650.3" stroke="#111" stroke-width="2.0" />
<line x1="807.4" y1="655.3" x2="807.4" y2="650.3" stroke="#111" stroke-width="2.0" />
<line x1="521.2" y1="655.3" x2="521.2" y2="652.3" stroke="#111" stroke-width="2.0" />
<line x1="573.2" y1="655.3" x2="573.2" y2="652.3" stroke="#111" stroke-width="2.0" />
<line x1="625.3" y1="655.3" x2="625.3" y2="652.3" stroke="#111" stroke-width="2.0" />
<line x1="677.3" y1="655.3" x2="677.3" y2="652.3" stroke="#111" stroke-width="2.0" />
<line x1="729.3" y1="655.3" x2="729.3" y2="652.3" stroke="#111" stroke-width="2.0" />
<line x1="781.4" y1="655.3" x2="781.4" y2="652.3" stroke="#111" stroke-width="2.0" />
<line x1="833.4" y1="655.3" x2="833.4" y2="652.3" stroke="#111" stroke-width="2.0" />
<text transform="translate(478.25,679.54) scale(0.22900,0.22985)" style="font-family:'Liberation Serif',serif;font-weight:bold;font-size:100px" fill="#111" stroke="#111" stroke-width="1.31" stroke-linejoin="round" >468</text>
<text transform="translate(530.28,679.54) scale(0.22900,0.22985)" style="font-family:'Liberation Serif',serif;font-weight:bold;font-size:100px" fill="#111" stroke="#111" stroke-width="1.31" stroke-linejoin="round" >466</text>
<text transform="translate(582.20,679.54) scale(0.22900,0.22985)" style="font-family:'Liberation Serif',serif;font-weight:bold;font-size:100px" fill="#111" stroke="#111" stroke-width="1.31" stroke-linejoin="round" >464</text>
<text transform="translate(634.45,679.54) scale(0.22900,0.22985)" style="font-family:'Liberation Serif',serif;font-weight:bold;font-size:100px" fill="#111" stroke="#111" stroke-width="1.31" stroke-linejoin="round" >462</text>
<text transform="translate(686.48,679.54) scale(0.22900,0.22985)" style="font-family:'Liberation Serif',serif;font-weight:bold;font-size:100px" fill="#111" stroke="#111" stroke-width="1.31" stroke-linejoin="round" >460</text>
<text transform="translate(738.40,679.54) scale(0.22900,0.22985)" style="font-family:'Liberation Serif',serif;font-weight:bold;font-size:100px" fill="#111" stroke="#111" stroke-width="1.31" stroke-linejoin="round" >458</text>
<text transform="translate(790.43,679.54) scale(0.22900,0.22985)" style="font-family:'Liberation Serif',serif;font-weight:bold;font-size:100px" fill="#111" stroke="#111" stroke-width="1.31" stroke-linejoin="round" >456</text>
<text transform="translate(842.34,679.77) scale(0.22900,0.23333)" style="font-family:'Liberation Serif',serif;font-weight:bold;font-size:100px" fill="#111" stroke="#111" stroke-width="1.30" stroke-linejoin="round" >454</text>
<text transform="translate(576.23,707.64) scale(0.23462,0.22667)" style="font-family:'Liberation Serif',serif;font-weight:bold;font-size:100px" fill="#111" stroke="#111" stroke-width="1.30" stroke-linejoin="round" >Binding energy (eV)</text>
<text transform="translate(479.15,599.12) rotate(-90) scale(0.24142,0.21667)" style="font-family:'Liberation Serif',serif;font-weight:bold;font-size:100px" fill="#111" stroke="#111" stroke-width="1.31" stroke-linejoin="round" >Intensity (a.u.)</text>
<text transform="translate(454.16,388.81) scale(0.31068,0.30889)" style="font-family:'Liberation Serif',serif;font-weight:bold;font-size:100px" fill="#111" stroke="#111" stroke-width="0.97" stroke-linejoin="round" >(e)</text>
<text transform="translate(500.34,409.95) scale(0.18065,0.16444)" style="font-family:'Liberation Serif',serif;font-weight:bold;font-size:100px" fill="#111" stroke="#111" stroke-width="1.74" stroke-linejoin="round" >Ti 2p</text>
<text transform="translate(499.65,465.11) scale(0.15188,0.14559)" style="font-family:'Liberation Serif',serif;font-weight:bold;font-size:100px" fill="#111" stroke="#111" stroke-width="2.02" stroke-linejoin="round" >ΔE=0.2 eV</text>
<text transform="translate(742.45,421.05) scale(0.15255,0.12647)" style="font-family:'Liberation Serif',serif;font-weight:bold;font-size:100px" fill="#111" stroke="#111" stroke-width="2.15" stroke-linejoin="round" >ΔE=0.2 eV</text>
<text transform="translate(615.11,479.83) scale(0.14528,0.16042)" style="font-family:'Liberation Serif',serif;font-weight:bold;font-size:100px" fill="#111" stroke="#111" stroke-width="1.96" stroke-linejoin="round" >Ti<tspan style="font-size:65%;baseline-shift:50%">3+</tspan> 2p<tspan style="font-size:65%;baseline-shift:-22%">3/2</tspan></text>
<text transform="translate(751.81,471.56) scale(0.14447,0.14479)" style="font-family:'Liberation Serif',serif;font-weight:bold;font-size:100px" fill="#111" stroke="#111" stroke-width="2.07" stroke-linejoin="round" >Ti<tspan style="font-size:65%;baseline-shift:50%">3+</tspan> 2p<tspan style="font-size:65%;baseline-shift:-22%">1/2</tspan></text>
<text transform="translate(772.14,506.36) scale(0.17279,0.16747)" style="font-family:'Liberation Serif',serif;font-weight:bold;font-size:100px" fill="#111" stroke="#111" stroke-width="1.76" stroke-linejoin="round" >SN-TiO<tspan style="font-size:65%;baseline-shift:-22%">2</tspan>/C</text>
<text transform="translate(658.22,542.03) scale(0.14205,0.16042)" style="font-family:'Liberation Serif',serif;font-weight:bold;font-size:100px" fill="#111" stroke="#111" stroke-width="1.98" stroke-linejoin="round" >Ti<tspan style="font-size:65%;baseline-shift:50%">4+</tspan> 2p<tspan style="font-size:65%;baseline-shift:-22%">3/2</tspan></text>
<text transform="translate(574.31,588.35) scale(0.14555,0.15938)" style="font-family:'Liberation Serif',serif;font-weight:bold;font-size:100px" fill="#111" stroke="#111" stroke-width="1.97" stroke-linejoin="round" >Ti<tspan style="font-size:65%;baseline-shift:50%">4+</tspan> 2p<tspan style="font-size:65%;baseline-shift:-22%">1/2</tspan></text>
<text transform="translate(797.26,620.50) scale(0.16970,0.18554)" style="font-family:'Liberation Serif',serif;font-weight:bold;font-size:100px" fill="#111" stroke="#111" stroke-width="1.69" stroke-linejoin="round" >TiO<tspan style="font-size:65%;baseline-shift:-22%">2</tspan></text>
<line x1="536.2" y1="471.6" x2="561.1" y2="471.6" stroke="#111" stroke-width="1.8" />
<path d="M569.1,471.6 L560.1,475.6 L560.1,467.6 Z" fill="#111"/>
<line x1="606.4" y1="471.6" x2="582.8" y2="471.6" stroke="#111" stroke-width="1.8" />
<path d="M574.8,471.6 L583.8,467.6 L583.8,475.6 Z" fill="#111"/>
<line x1="687" y1="402.8" x2="711" y2="402.8" stroke="#111" stroke-width="1.8" />
<path d="M719,402.8 L710,406.8 L710,398.8 Z" fill="#111"/>
<line x1="759.4" y1="402.8" x2="736.2" y2="402.8" stroke="#111" stroke-width="1.8" />
<path d="M728.2,402.8 L737.2,398.8 L737.2,406.8 Z" fill="#111"/>
<line x1="636.9" y1="481.5" x2="613" y2="498.2" stroke="#111" stroke-width="1.8" />
<path d="M606.4,502.8 L611.4,494.2 L616.2,501.1 Z" fill="#111"/>
<line x1="775.7" y1="472" x2="749.8" y2="491.8" stroke="#111" stroke-width="1.8" />
<path d="M743.5,496.7 L748.1,487.9 L753.2,494.6 Z" fill="#111"/>
<path d="M948.8,606.7 L982.8,607.9 L1003.8,607.8 L1010.3,607.3 L1014.8,606.4 L1018.8,604.9 L1021.8,602.9 L1024.8,600 L1027.3,596.6 L1029.8,592.1 L1031.8,587.6 L1034.3,580.8 L1036.8,572.8 L1044.8,542.2 L1047.8,532.2 L1049.3,528.3 L1050.8,525.5 L1052.3,524.1 L1053.3,523.9 L1054.3,524.3 L1055.8,526.1 L1057.3,529.2 L1058.8,533.4 L1061.3,542.1 L1069.8,575.4 L1072.8,585.1 L1075.8,593.1 L1079.3,600 L1082.8,604.8 L1086.8,608.3 L1091.3,610.7 L1097.3,612.6 L1106.3,614.1 L1119.8,615.7 L1138.3,617.4 L1195.3,621.3 L1312.8,628.4 L1312.8,628.5 L948.8,607.3Z" fill="#b47ddc" stroke="none" fill-opacity="0.88"/>
<path d="M948.8,606.6 L969.8,607.2 L982.3,607 L989.8,605.8 L992.8,604.8 L995.3,603.4 L999.8,599.7 L1003.8,594.4 L1008.3,586.2 L1018.3,564.3 L1021.3,560.1 L1022.8,559 L1024.3,558.7 L1025.3,559 L1026.8,560.1 L1029.8,564.5 L1041.3,590.6 L1044.3,596.3 L1047.3,600.9 L1050.8,604.9 L1054.3,607.6 L1058.3,609.7 L1063.3,611.3 L1069.8,612.5 L1079.8,613.7 L1114.8,616.5 L1312.8,628.4 L1312.8,628.5 L948.8,607.3Z" fill="#79b62a" stroke="none" fill-opacity="0.88"/>
<path d="M948.8,607.1 L1037.8,612 L1084.3,613.9 L1099.8,614.2 L1110.8,613.9 L1117.8,613.2 L1123.3,611.9 L1127.8,609.6 L1131.3,606.5 L1134.8,601.9 L1137.8,596.3 L1140.8,589 L1143.8,580.1 L1152.8,547.8 L1155.3,539.8 L1158.3,533 L1159.8,531.2 L1161.3,530.7 L1162.8,531.4 L1164.3,533.4 L1167.3,540.5 L1169.8,548.8 L1178.8,582.2 L1181.8,591.4 L1184.3,597.9 L1187.3,604.1 L1190.3,608.8 L1193.3,612.2 L1196.8,614.9 L1200.8,617 L1206.3,618.7 L1213.3,620.1 L1223.8,621.5 L1256.3,624.4 L1312.8,628.2 L1312.8,628.5 L948.8,607.3Z" fill="#f07d7d" stroke="none" fill-opacity="0.88"/>
<path d="M948.8,607 L1054.8,612.4 L1085.8,613.6 L1108.3,613.9 L1125.8,613.5 L1139.3,612.1 L1148.8,609.9 L1152.8,608.3 L1155.8,606.6 L1158.3,604.6 L1160.8,601.9 L1162.8,599.1 L1164.8,595.4 L1168.3,586.8 L1171.8,574.2 L1174.8,559.8 L1178.3,538.3 L1189.3,456 L1190.8,447.9 L1192.3,442.1 L1193.8,439 L1194.8,438.7 L1195.8,439.7 L1197.3,443.7 L1199.8,456 L1202.3,473.4 L1210.3,536 L1215.3,566.9 L1217.8,578.6 L1220.8,589.5 L1223.8,597.6 L1226.8,603.4 L1230.8,608.7 L1235.3,612.5 L1241.3,615.7 L1249.8,618.5 L1260.3,620.9 L1273.8,623.1 L1290.8,625 L1312.8,627 L1312.8,628.5 L948.8,607.3Z" fill="#6ea2e6" stroke="none" fill-opacity="0.88"/>
<path d="M948.8,607.3 L1312.8,628.5" fill="none" stroke="#4a7a20" stroke-width="1.6" stroke-linejoin="round" stroke-linecap="round" />
<path d="M948.5,620.7 L953.9,611.8 L958.4,623 L965,615.1 L969.5,616.3 L974,611.8 L979.6,623 L981.8,605.1 L988.5,604 L990.7,594 L997.4,590.6 L1000.8,576.1 L1005.2,573.9 L1007.4,562.7 L1011.9,573.9 L1016.4,553.8 L1021.9,544.9 L1033.1,530.4 L1036.4,533.7 L1039.8,523.7 L1045.4,522.6 L1048.7,509.2 L1052,513.7 L1058.7,520.4 L1062.1,536 L1065.4,541.5 L1068.8,549.3 L1073.2,553.8 L1076.6,571.6 L1084.4,596.2 L1087.7,605.1 L1091.1,598.4 L1094.4,602.9 L1097.8,596.2 L1101.1,606.2 L1105.6,602.9 L1110,608.4 L1114.5,605.1 L1119,600.6 L1123.4,598.4 L1138.1,576.3 L1140,581.5 L1143.3,565.9 L1145.9,537.3 L1149.8,536 L1151.1,523 L1153.7,515.1 L1157,509.9 L1160.9,519 L1164.1,506 L1168,503.4 L1177,484.6 L1188.3,448.3 L1194.6,426.6 L1198.7,436.3 L1207.2,491.9 L1216.9,549.9 L1224.1,588.5 L1228.9,607.9 L1232.6,591 L1235,607.9 L1238.6,605.5 L1248.3,620 L1251.9,627.2 L1256.7,618.8 L1264,630.8 L1270,616.3 L1274.9,624.8 L1282.1,622.4 L1289.4,632.1 L1296.6,634.5 L1301.5,636.9 L1311.1,627.2" fill="none" stroke="#111" stroke-width="1.8" stroke-linejoin="round" stroke-linecap="round" />
<path d="M948.5,604 C953.5,603.6 970.5,603.1 978.5,601.8 C986.5,600.5 991.1,600.5 996.3,596.2 C1001.5,591.9 1005.6,584.7 1009.7,576.1 C1013.8,567.5 1017.6,551.6 1020.8,544.9 C1023.9,538.2 1026,537.6 1028.6,536 C1031.2,534.4 1033.6,536.9 1036.4,535.5 C1039.2,534.1 1042.8,531.5 1045.4,527.5 C1048,523.5 1050.2,513.8 1052,511.4 C1053.8,509 1054.3,509.1 1056.5,513.2 C1058.7,517.3 1062.4,527 1065.4,536 C1068.4,545 1071.3,558.3 1074.3,567.2 C1077.3,576.1 1080.2,584.5 1083.3,589.5 C1086.4,594.5 1089.3,595.8 1093,597.5 C1096.7,599.2 1101.3,599.7 1105.6,599.5 C1109.9,599.3 1115.8,597.2 1119,596.2 C1122.2,595.2 1123.2,594.9 1125,593.4 C1126.8,591.9 1127.7,591.3 1130.1,587.3 C1132.5,583.3 1136.3,577.9 1139.5,569.2 C1142.7,560.6 1146.3,545.3 1149.2,535.4 C1152.1,525.5 1155,515.6 1157,510 C1159,504.4 1159.6,503.3 1161.3,501.5 C1163,499.7 1165.3,499.3 1167.3,499.3 C1169.3,499.3 1171.1,503.9 1173.3,501.5 C1175.5,499.1 1178.2,494.3 1180.6,484.6 C1183,474.9 1185.5,453.7 1187.8,443.5 C1190.1,433.3 1192.6,424.2 1194.6,423.4 C1196.6,422.6 1197.8,427.7 1199.9,438.7 C1202,449.7 1204.8,473.3 1207.2,489.4 C1209.6,505.5 1212,520.9 1214.4,535.4 C1216.8,549.9 1218.5,565.2 1221.7,576.5 C1224.9,587.8 1227.8,596.2 1233.8,603 C1239.8,609.8 1247.9,613.9 1258,617.5 C1268.1,621.1 1285.1,623.4 1294.2,624.8 C1303.3,626.2 1309.5,625.8 1312.5,626" fill="none" stroke="#1414e6" stroke-width="2.4" stroke-linejoin="round" stroke-linecap="round" />
<rect x="948.8" y="392.1" width="364.1" height="267.3" fill="none" stroke="#111" stroke-width="2.2"/>
<line x1="1009.5" y1="659.4" x2="1009.5" y2="654.4" stroke="#111" stroke-width="2.0" />
<line x1="1070.2" y1="659.4" x2="1070.2" y2="654.4" stroke="#111" stroke-width="2.0" />
<line x1="1130.8" y1="659.4" x2="1130.8" y2="654.4" stroke="#111" stroke-width="2.0" />
<line x1="1191.5" y1="659.4" x2="1191.5" y2="654.4" stroke="#111" stroke-width="2.0" />
<line x1="1252.2" y1="659.4" x2="1252.2" y2="654.4" stroke="#111" stroke-width="2.0" />
<line x1="979.1" y1="659.4" x2="979.1" y2="656.4" stroke="#111" stroke-width="2.0" />
<line x1="1039.8" y1="659.4" x2="1039.8" y2="656.4" stroke="#111" stroke-width="2.0" />
<line x1="1100.5" y1="659.4" x2="1100.5" y2="656.4" stroke="#111" stroke-width="2.0" />
<line x1="1161.2" y1="659.4" x2="1161.2" y2="656.4" stroke="#111" stroke-width="2.0" />
<line x1="1221.9" y1="659.4" x2="1221.9" y2="656.4" stroke="#111" stroke-width="2.0" />
<line x1="1282.6" y1="659.4" x2="1282.6" y2="656.4" stroke="#111" stroke-width="2.0" />
<text transform="translate(931.09,683.18) scale(0.23000,0.21940)" style="font-family:'Liberation Serif',serif;font-weight:bold;font-size:100px" fill="#111" stroke="#111" stroke-width="1.34" stroke-linejoin="round" >172</text>
<text transform="translate(991.77,682.97) scale(0.23000,0.21618)" style="font-family:'Liberation Serif',serif;font-weight:bold;font-size:100px" fill="#111" stroke="#111" stroke-width="1.34" stroke-linejoin="round" >170</text>
<text transform="translate(1052.34,682.97) scale(0.23000,0.21618)" style="font-family:'Liberation Serif',serif;font-weight:bold;font-size:100px" fill="#111" stroke="#111" stroke-width="1.34" stroke-linejoin="round" >168</text>
<text transform="translate(1113.02,682.97) scale(0.23000,0.21618)" style="font-family:'Liberation Serif',serif;font-weight:bold;font-size:100px" fill="#111" stroke="#111" stroke-width="1.34" stroke-linejoin="round" >166</text>
<text transform="translate(1173.59,682.97) scale(0.23000,0.21618)" style="font-family:'Liberation Serif',serif;font-weight:bold;font-size:100px" fill="#111" stroke="#111" stroke-width="1.34" stroke-linejoin="round" >164</text>
<text transform="translate(1234.51,682.97) scale(0.23000,0.21618)" style="font-family:'Liberation Serif',serif;font-weight:bold;font-size:100px" fill="#111" stroke="#111" stroke-width="1.34" stroke-linejoin="round" >162</text>
<text transform="translate(1295.19,682.97) scale(0.23000,0.21618)" style="font-family:'Liberation Serif',serif;font-weight:bold;font-size:100px" fill="#111" stroke="#111" stroke-width="1.34" stroke-linejoin="round" >160</text>
<text transform="translate(1063.63,708.82) scale(0.23415,0.21333)" style="font-family:'Liberation Serif',serif;font-weight:bold;font-size:100px" fill="#111" stroke="#111" stroke-width="1.34" stroke-linejoin="round" >Energy (keV)</text>
<text transform="translate(933.06,603.02) rotate(-90) scale(0.24013,0.22111)" style="font-family:'Liberation Serif',serif;font-weight:bold;font-size:100px" fill="#111" stroke="#111" stroke-width="1.30" stroke-linejoin="round" >Intensity (a.u.)</text>
<text transform="translate(911.76,394.69) scale(0.31099,0.29560)" style="font-family:'Liberation Serif',serif;font-weight:bold;font-size:100px" fill="#111" stroke="#111" stroke-width="0.99" stroke-linejoin="round" >(f)</text>
<text transform="translate(1267.70,416.53) scale(0.18023,0.16512)" style="font-family:'Liberation Serif',serif;font-weight:bold;font-size:100px" fill="#111" stroke="#111" stroke-width="1.74" stroke-linejoin="round" >S 2p</text>
<text transform="translate(958.51,526.21) scale(0.15709,0.14478)" style="font-family:'Liberation Serif',serif;font-weight:bold;font-size:100px" fill="#111" stroke="#111" stroke-width="1.99" stroke-linejoin="round" >O-S-O</text>
<text transform="translate(1078.12,485.02) scale(0.15541,0.14179)" style="font-family:'Liberation Serif',serif;font-weight:bold;font-size:100px" fill="#111" stroke="#111" stroke-width="2.02" stroke-linejoin="round" >S-O</text>
<text transform="translate(1092.80,538.22) scale(0.15936,0.13944)" style="font-family:'Liberation Serif',serif;font-weight:bold;font-size:100px" fill="#111" stroke="#111" stroke-width="2.01" stroke-linejoin="round" >S-Ti-O</text>
<text transform="translate(1228.72,506.81) scale(0.15522,0.14648)" style="font-family:'Liberation Serif',serif;font-weight:bold;font-size:100px" fill="#111" stroke="#111" stroke-width="1.99" stroke-linejoin="round" >S-C/S-Ti</text>
<line x1="984" y1="532.6" x2="1005.1" y2="553.7" stroke="#111" stroke-width="1.8" />
<path d="M1010.8,559.4 L1001.5,556 L1007.4,550.1 Z" fill="#111"/>
<line x1="1088.8" y1="490.9" x2="1071.5" y2="512.9" stroke="#111" stroke-width="1.8" />
<path d="M1066.5,519.2 L1068.8,509.5 L1075.4,514.7 Z" fill="#111"/>
<line x1="1111.4" y1="544.4" x2="1133.3" y2="560.5" stroke="#111" stroke-width="1.8" />
<path d="M1139.7,565.3 L1130,563.3 L1135,556.6 Z" fill="#111"/>
<line x1="1251.2" y1="514.8" x2="1224.4" y2="531.2" stroke="#111" stroke-width="1.8" />
<path d="M1217.6,535.4 L1223.1,527.1 L1227.5,534.3 Z" fill="#111"/>
<defs>
<radialGradient id="gO" cx="0.5" cy="0.45" r="0.55"><stop offset="0" stop-color="#ffd0d0"/><stop offset="0.3" stop-color="#f03030"/><stop offset="0.8" stop-color="#d01010"/><stop offset="1" stop-color="#a80808"/></radialGradient>
<radialGradient id="gS" cx="0.5" cy="0.45" r="0.55"><stop offset="0" stop-color="#ffffd0"/><stop offset="0.3" stop-color="#f4ee20"/><stop offset="0.8" stop-color="#dcd400"/><stop offset="1" stop-color="#a8a000"/></radialGradient>
<radialGradient id="gN" cx="0.5" cy="0.45" r="0.55"><stop offset="0" stop-color="#ffffff"/><stop offset="0.3" stop-color="#c8cce6"/><stop offset="0.8" stop-color="#a4a8cc"/><stop offset="1" stop-color="#7c80a8"/></radialGradient>
<radialGradient id="gTi" cx="0.5" cy="0.5" r="0.55"><stop offset="0" stop-color="#ffffff"/><stop offset="0.25" stop-color="#a8dcf6"/><stop offset="0.75" stop-color="#78b4e0"/><stop offset="1" stop-color="#4c88b8"/></radialGradient>
<radialGradient id="gTi2" cx="0.4" cy="0.38" r="0.7"><stop offset="0" stop-color="#a8d4f0"/><stop offset="1" stop-color="#78b4dc"/></radialGradient>
<linearGradient id="gArr" x1="0" y1="0" x2="1" y2="0"><stop offset="0" stop-color="#6a9ee0"/><stop offset="1" stop-color="#3f78d0"/></linearGradient>
</defs>
<line x1="519" y1="838" x2="519" y2="926" stroke="#777" stroke-width="0.8"/>
<line x1="572" y1="838" x2="572" y2="926" stroke="#777" stroke-width="0.8"/>
<line x1="598.5" y1="851" x2="598.5" y2="926" stroke="#777" stroke-width="0.8"/>
<polygon points="545.5,775.5 572.0,804.0 545.5,838.0 518.5,804.0" fill="#94c6e8" fill-opacity="0.8"/><polygon points="545.5,775.5 518.5,804.0 532.5,816.0" fill="#6e9fc8" fill-opacity="0.55"/><polygon points="518.5,804.0 532.5,816.0 545.5,838.0" fill="#6596bf" fill-opacity="0.5"/><polygon points="545.5,775.5 532.5,816.0 572.0,804.0" fill="#b0d8f0" fill-opacity="0.35"/><polygon points="532.5,816.0 545.5,838.0 572.0,804.0" fill="#86b8dc" fill-opacity="0.4"/>
<polygon points="598.5,775.5 625.0,804.0 598.5,838.0 571.5,804.0" fill="#94c6e8" fill-opacity="0.8"/><polygon points="598.5,775.5 571.5,804.0 585.5,816.0" fill="#6e9fc8" fill-opacity="0.55"/><polygon points="571.5,804.0 585.5,816.0 598.5,838.0" fill="#6596bf" fill-opacity="0.5"/><polygon points="598.5,775.5 585.5,816.0 625.0,804.0" fill="#b0d8f0" fill-opacity="0.35"/><polygon points="585.5,816.0 598.5,838.0 625.0,804.0" fill="#86b8dc" fill-opacity="0.4"/>
<polygon points="519.0,775.5 545.5,802.0 519.0,838.0 491.5,802.0" fill="#94c6e8" fill-opacity="0.8"/><polygon points="519.0,775.5 491.5,802.0 505.8,814.0" fill="#6e9fc8" fill-opacity="0.55"/><polygon points="491.5,802.0 505.8,814.0 519.0,838.0" fill="#6596bf" fill-opacity="0.5"/><polygon points="519.0,775.5 505.8,814.0 545.5,802.0" fill="#b0d8f0" fill-opacity="0.35"/><polygon points="505.8,814.0 519.0,838.0 545.5,802.0" fill="#86b8dc" fill-opacity="0.4"/>
<polygon points="572.5,775.5 599.0,802.0 572.5,838.0 545.0,802.0" fill="#94c6e8" fill-opacity="0.8"/><polygon points="572.5,775.5 545.0,802.0 559.3,814.0" fill="#6e9fc8" fill-opacity="0.55"/><polygon points="545.0,802.0 559.3,814.0 572.5,838.0" fill="#6596bf" fill-opacity="0.5"/><polygon points="572.5,775.5 559.3,814.0 599.0,802.0" fill="#b0d8f0" fill-opacity="0.35"/><polygon points="559.3,814.0 572.5,838.0 599.0,802.0" fill="#86b8dc" fill-opacity="0.4"/>
<polygon points="532.0,812.0 558.5,842.0 532.0,876.0 504.5,842.0" fill="#94c6e8" fill-opacity="0.8"/><polygon points="532.0,812.0 504.5,842.0 518.8,854.0" fill="#6e9fc8" fill-opacity="0.55"/><polygon points="504.5,842.0 518.8,854.0 532.0,876.0" fill="#6596bf" fill-opacity="0.5"/><polygon points="532.0,812.0 518.8,854.0 558.5,842.0" fill="#b0d8f0" fill-opacity="0.35"/><polygon points="518.8,854.0 532.0,876.0 558.5,842.0" fill="#86b8dc" fill-opacity="0.4"/>
<polygon points="585.0,812.0 611.5,842.0 585.0,876.0 557.5,842.0" fill="#94c6e8" fill-opacity="0.8"/><polygon points="585.0,812.0 557.5,842.0 571.8,854.0" fill="#6e9fc8" fill-opacity="0.55"/><polygon points="557.5,842.0 571.8,854.0 585.0,876.0" fill="#6596bf" fill-opacity="0.5"/><polygon points="585.0,812.0 571.8,854.0 611.5,842.0" fill="#b0d8f0" fill-opacity="0.35"/><polygon points="571.8,854.0 585.0,876.0 611.5,842.0" fill="#86b8dc" fill-opacity="0.4"/>
<polygon points="571.5,876.0 597.5,908.0 571.5,951.0 545.5,908.0" fill="#94c6e8" fill-opacity="0.8"/><polygon points="571.5,876.0 545.5,908.0 559.0,920.0" fill="#6e9fc8" fill-opacity="0.55"/><polygon points="545.5,908.0 559.0,920.0 571.5,951.0" fill="#6596bf" fill-opacity="0.5"/><polygon points="571.5,876.0 559.0,920.0 597.5,908.0" fill="#b0d8f0" fill-opacity="0.35"/><polygon points="559.0,920.0 571.5,951.0 597.5,908.0" fill="#86b8dc" fill-opacity="0.4"/>
<polygon points="558.0,851.0 585.0,878.0 558.0,912.0 531.0,878.0" fill="#94c6e8" fill-opacity="0.8"/><polygon points="558.0,851.0 531.0,878.0 545.0,890.0" fill="#6e9fc8" fill-opacity="0.55"/><polygon points="531.0,878.0 545.0,890.0 558.0,912.0" fill="#6596bf" fill-opacity="0.5"/><polygon points="558.0,851.0 545.0,890.0 585.0,878.0" fill="#b0d8f0" fill-opacity="0.35"/><polygon points="545.0,890.0 558.0,912.0 585.0,878.0" fill="#86b8dc" fill-opacity="0.4"/>
<polygon points="545.0,888.0 572.0,915.0 545.0,951.0 518.0,915.0" fill="#94c6e8" fill-opacity="0.8"/><polygon points="545.0,888.0 518.0,915.0 532.0,927.0" fill="#6e9fc8" fill-opacity="0.55"/><polygon points="518.0,915.0 532.0,927.0 545.0,951.0" fill="#6596bf" fill-opacity="0.5"/><polygon points="545.0,888.0 532.0,927.0 572.0,915.0" fill="#b0d8f0" fill-opacity="0.35"/><polygon points="532.0,927.0 545.0,951.0 572.0,915.0" fill="#86b8dc" fill-opacity="0.4"/>
<polygon points="545.5,925.5 572.0,954.0 545.5,988.0 518.5,954.0" fill="#94c6e8" fill-opacity="0.8"/><polygon points="545.5,925.5 518.5,954.0 532.5,966.0" fill="#6e9fc8" fill-opacity="0.55"/><polygon points="518.5,954.0 532.5,966.0 545.5,988.0" fill="#6596bf" fill-opacity="0.5"/><polygon points="545.5,925.5 532.5,966.0 572.0,954.0" fill="#b0d8f0" fill-opacity="0.35"/><polygon points="532.5,966.0 545.5,988.0 572.0,954.0" fill="#86b8dc" fill-opacity="0.4"/>
<polygon points="598.5,925.5 625.0,954.0 598.5,988.0 571.5,954.0" fill="#94c6e8" fill-opacity="0.8"/><polygon points="598.5,925.5 571.5,954.0 585.5,966.0" fill="#6e9fc8" fill-opacity="0.55"/><polygon points="571.5,954.0 585.5,966.0 598.5,988.0" fill="#6596bf" fill-opacity="0.5"/><polygon points="598.5,925.5 585.5,966.0 625.0,954.0" fill="#b0d8f0" fill-opacity="0.35"/><polygon points="585.5,966.0 598.5,988.0 625.0,954.0" fill="#86b8dc" fill-opacity="0.4"/>
<polygon points="519.0,925.5 545.5,952.0 519.0,988.0 491.5,952.0" fill="#94c6e8" fill-opacity="0.8"/><polygon points="519.0,925.5 491.5,952.0 505.8,964.0" fill="#6e9fc8" fill-opacity="0.55"/><polygon points="491.5,952.0 505.8,964.0 519.0,988.0" fill="#6596bf" fill-opacity="0.5"/><polygon points="519.0,925.5 505.8,964.0 545.5,952.0" fill="#b0d8f0" fill-opacity="0.35"/><polygon points="505.8,964.0 519.0,988.0 545.5,952.0" fill="#86b8dc" fill-opacity="0.4"/>
<polygon points="572.5,925.5 599.0,952.0 572.5,988.0 545.0,952.0" fill="#94c6e8" fill-opacity="0.8"/><polygon points="572.5,925.5 545.0,952.0 559.3,964.0" fill="#6e9fc8" fill-opacity="0.55"/><polygon points="545.0,952.0 559.3,964.0 572.5,988.0" fill="#6596bf" fill-opacity="0.5"/><polygon points="572.5,925.5 559.3,964.0 599.0,952.0" fill="#b0d8f0" fill-opacity="0.35"/><polygon points="559.3,964.0 572.5,988.0 599.0,952.0" fill="#86b8dc" fill-opacity="0.4"/>
<circle cx="545.0" cy="810" r="8.5" fill="url(#gTi2)" fill-opacity="0.8"/>
<circle cx="598.3" cy="810" r="8.5" fill="url(#gTi2)" fill-opacity="0.8"/>
<circle cx="519.0" cy="805" r="8.5" fill="url(#gTi2)" fill-opacity="0.8"/>
<circle cx="571.5" cy="805" r="8.5" fill="url(#gTi2)" fill-opacity="0.8"/>
<circle cx="532.5" cy="844" r="8.5" fill="url(#gTi2)" fill-opacity="0.8"/>
<circle cx="585.0" cy="844" r="8.5" fill="url(#gTi2)" fill-opacity="0.8"/>
<circle cx="558.0" cy="880.5" r="8.5" fill="url(#gTi2)" fill-opacity="0.8"/>
<circle cx="544.7" cy="917" r="8.5" fill="url(#gTi2)" fill-opacity="0.8"/>
<circle cx="570.0" cy="913" r="8.5" fill="url(#gTi2)" fill-opacity="0.8"/>
<circle cx="545.0" cy="960" r="8.5" fill="url(#gTi2)" fill-opacity="0.8"/>
<circle cx="598.3" cy="960" r="8.5" fill="url(#gTi2)" fill-opacity="0.8"/>
<circle cx="519.0" cy="955" r="8.5" fill="url(#gTi2)" fill-opacity="0.8"/>
<circle cx="571.5" cy="955" r="8.5" fill="url(#gTi2)" fill-opacity="0.8"/>
<circle cx="519.1" cy="775.2" r="4.6" fill="url(#gO)"/>
<circle cx="545.2" cy="775.6" r="4.6" fill="url(#gO)"/>
<circle cx="572.6" cy="775.2" r="4.6" fill="url(#gO)"/>
<circle cx="598.8" cy="775.6" r="4.6" fill="url(#gO)"/>
<circle cx="491.6" cy="800.2" r="4.6" fill="url(#gO)"/>
<circle cx="545.2" cy="800.2" r="4.6" fill="url(#gO)"/>
<circle cx="599.4" cy="800.2" r="4.6" fill="url(#gO)"/>
<circle cx="625.1" cy="800.8" r="4.6" fill="url(#gO)"/>
<circle cx="505.7" cy="812.9" r="4.6" fill="url(#gO)"/>
<circle cx="559.2" cy="812.9" r="4.6" fill="url(#gO)"/>
<circle cx="519.1" cy="837.7" r="4.6" fill="url(#gO)"/>
<circle cx="572.0" cy="837.7" r="4.6" fill="url(#gO)"/>
<circle cx="504.6" cy="851" r="4.6" fill="url(#gO)"/>
<circle cx="558.1" cy="851" r="4.6" fill="url(#gO)"/>
<circle cx="611.7" cy="851" r="4.6" fill="url(#gO)"/>
<circle cx="531.3" cy="875.6" r="4.6" fill="url(#gO)"/>
<circle cx="584.9" cy="875.6" r="4.6" fill="url(#gO)"/>
<circle cx="545.2" cy="887.9" r="4.6" fill="url(#gO)"/>
<circle cx="531.8" cy="912.9" r="4.6" fill="url(#gO)"/>
<circle cx="518.0" cy="925.6" r="4.6" fill="url(#gO)"/>
<circle cx="571.5" cy="925.6" r="4.6" fill="url(#gO)"/>
<circle cx="598.3" cy="926.3" r="4.6" fill="url(#gO)"/>
<circle cx="491.2" cy="950.8" r="4.6" fill="url(#gO)"/>
<circle cx="544.7" cy="950.8" r="4.6" fill="url(#gO)"/>
<circle cx="598.3" cy="950.4" r="4.6" fill="url(#gO)"/>
<circle cx="624.6" cy="950.8" r="4.6" fill="url(#gO)"/>
<circle cx="505.7" cy="962.7" r="4.6" fill="url(#gO)"/>
<circle cx="559.2" cy="962.7" r="4.6" fill="url(#gO)"/>
<circle cx="518.4" cy="988.1" r="4.6" fill="url(#gO)"/>
<circle cx="544.7" cy="988.1" r="4.6" fill="url(#gO)"/>
<circle cx="571.5" cy="988.1" r="4.6" fill="url(#gO)"/>
<circle cx="597.6" cy="988.1" r="4.6" fill="url(#gO)"/>
<line x1="747" y1="838" x2="747" y2="926" stroke="#777" stroke-width="0.8"/>
<line x1="800" y1="838" x2="800" y2="926" stroke="#777" stroke-width="0.8"/>
<line x1="826.5" y1="851" x2="826.5" y2="926" stroke="#777" stroke-width="0.8"/>
<polygon points="773.5,775.5 800.0,804.0 773.5,838.0 746.5,804.0" fill="#94c6e8" fill-opacity="0.8"/><polygon points="773.5,775.5 746.5,804.0 760.5,816.0" fill="#6e9fc8" fill-opacity="0.55"/><polygon points="746.5,804.0 760.5,816.0 773.5,838.0" fill="#6596bf" fill-opacity="0.5"/><polygon points="773.5,775.5 760.5,816.0 800.0,804.0" fill="#b0d8f0" fill-opacity="0.35"/><polygon points="760.5,816.0 773.5,838.0 800.0,804.0" fill="#86b8dc" fill-opacity="0.4"/>
<polygon points="826.5,775.5 853.0,804.0 826.5,838.0 799.5,804.0" fill="#94c6e8" fill-opacity="0.8"/><polygon points="826.5,775.5 799.5,804.0 813.5,816.0" fill="#6e9fc8" fill-opacity="0.55"/><polygon points="799.5,804.0 813.5,816.0 826.5,838.0" fill="#6596bf" fill-opacity="0.5"/><polygon points="826.5,775.5 813.5,816.0 853.0,804.0" fill="#b0d8f0" fill-opacity="0.35"/><polygon points="813.5,816.0 826.5,838.0 853.0,804.0" fill="#86b8dc" fill-opacity="0.4"/>
<polygon points="747.0,775.5 773.5,802.0 747.0,838.0 719.5,802.0" fill="#94c6e8" fill-opacity="0.8"/><polygon points="747.0,775.5 719.5,802.0 733.8,814.0" fill="#6e9fc8" fill-opacity="0.55"/><polygon points="719.5,802.0 733.8,814.0 747.0,838.0" fill="#6596bf" fill-opacity="0.5"/><polygon points="747.0,775.5 733.8,814.0 773.5,802.0" fill="#b0d8f0" fill-opacity="0.35"/><polygon points="733.8,814.0 747.0,838.0 773.5,802.0" fill="#86b8dc" fill-opacity="0.4"/>
<polygon points="800.5,775.5 827.0,802.0 800.5,838.0 773.0,802.0" fill="#94c6e8" fill-opacity="0.8"/><polygon points="800.5,775.5 773.0,802.0 787.3,814.0" fill="#6e9fc8" fill-opacity="0.55"/><polygon points="773.0,802.0 787.3,814.0 800.5,838.0" fill="#6596bf" fill-opacity="0.5"/><polygon points="800.5,775.5 787.3,814.0 827.0,802.0" fill="#b0d8f0" fill-opacity="0.35"/><polygon points="787.3,814.0 800.5,838.0 827.0,802.0" fill="#86b8dc" fill-opacity="0.4"/>
<polygon points="760.0,812.0 786.5,842.0 760.0,876.0 732.5,842.0" fill="#94c6e8" fill-opacity="0.8"/><polygon points="760.0,812.0 732.5,842.0 746.8,854.0" fill="#6e9fc8" fill-opacity="0.55"/><polygon points="732.5,842.0 746.8,854.0 760.0,876.0" fill="#6596bf" fill-opacity="0.5"/><polygon points="760.0,812.0 746.8,854.0 786.5,842.0" fill="#b0d8f0" fill-opacity="0.35"/><polygon points="746.8,854.0 760.0,876.0 786.5,842.0" fill="#86b8dc" fill-opacity="0.4"/>
<polygon points="813.0,812.0 839.5,842.0 813.0,876.0 785.5,842.0" fill="#94c6e8" fill-opacity="0.8"/><polygon points="813.0,812.0 785.5,842.0 799.8,854.0" fill="#6e9fc8" fill-opacity="0.55"/><polygon points="785.5,842.0 799.8,854.0 813.0,876.0" fill="#6596bf" fill-opacity="0.5"/><polygon points="813.0,812.0 799.8,854.0 839.5,842.0" fill="#b0d8f0" fill-opacity="0.35"/><polygon points="799.8,854.0 813.0,876.0 839.5,842.0" fill="#86b8dc" fill-opacity="0.4"/>
<polygon points="799.5,876.0 825.5,908.0 799.5,951.0 773.5,908.0" fill="#94c6e8" fill-opacity="0.8"/><polygon points="799.5,876.0 773.5,908.0 787.0,920.0" fill="#6e9fc8" fill-opacity="0.55"/><polygon points="773.5,908.0 787.0,920.0 799.5,951.0" fill="#6596bf" fill-opacity="0.5"/><polygon points="799.5,876.0 787.0,920.0 825.5,908.0" fill="#b0d8f0" fill-opacity="0.35"/><polygon points="787.0,920.0 799.5,951.0 825.5,908.0" fill="#86b8dc" fill-opacity="0.4"/>
<polygon points="786.0,851.0 813.0,878.0 786.0,912.0 759.0,878.0" fill="#94c6e8" fill-opacity="0.8"/><polygon points="786.0,851.0 759.0,878.0 773.0,890.0" fill="#6e9fc8" fill-opacity="0.55"/><polygon points="759.0,878.0 773.0,890.0 786.0,912.0" fill="#6596bf" fill-opacity="0.5"/><polygon points="786.0,851.0 773.0,890.0 813.0,878.0" fill="#b0d8f0" fill-opacity="0.35"/><polygon points="773.0,890.0 786.0,912.0 813.0,878.0" fill="#86b8dc" fill-opacity="0.4"/>
<polygon points="773.0,888.0 800.0,915.0 773.0,951.0 746.0,915.0" fill="#94c6e8" fill-opacity="0.8"/><polygon points="773.0,888.0 746.0,915.0 760.0,927.0" fill="#6e9fc8" fill-opacity="0.55"/><polygon points="746.0,915.0 760.0,927.0 773.0,951.0" fill="#6596bf" fill-opacity="0.5"/><polygon points="773.0,888.0 760.0,927.0 800.0,915.0" fill="#b0d8f0" fill-opacity="0.35"/><polygon points="760.0,927.0 773.0,951.0 800.0,915.0" fill="#86b8dc" fill-opacity="0.4"/>
<polygon points="773.5,925.5 800.0,954.0 773.5,988.0 746.5,954.0" fill="#94c6e8" fill-opacity="0.8"/><polygon points="773.5,925.5 746.5,954.0 760.5,966.0" fill="#6e9fc8" fill-opacity="0.55"/><polygon points="746.5,954.0 760.5,966.0 773.5,988.0" fill="#6596bf" fill-opacity="0.5"/><polygon points="773.5,925.5 760.5,966.0 800.0,954.0" fill="#b0d8f0" fill-opacity="0.35"/><polygon points="760.5,966.0 773.5,988.0 800.0,954.0" fill="#86b8dc" fill-opacity="0.4"/>
<polygon points="826.5,925.5 853.0,954.0 826.5,988.0 799.5,954.0" fill="#94c6e8" fill-opacity="0.8"/><polygon points="826.5,925.5 799.5,954.0 813.5,966.0" fill="#6e9fc8" fill-opacity="0.55"/><polygon points="799.5,954.0 813.5,966.0 826.5,988.0" fill="#6596bf" fill-opacity="0.5"/><polygon points="826.5,925.5 813.5,966.0 853.0,954.0" fill="#b0d8f0" fill-opacity="0.35"/><polygon points="813.5,966.0 826.5,988.0 853.0,954.0" fill="#86b8dc" fill-opacity="0.4"/>
<polygon points="747.0,925.5 773.5,952.0 747.0,988.0 719.5,952.0" fill="#94c6e8" fill-opacity="0.8"/><polygon points="747.0,925.5 719.5,952.0 733.8,964.0" fill="#6e9fc8" fill-opacity="0.55"/><polygon points="719.5,952.0 733.8,964.0 747.0,988.0" fill="#6596bf" fill-opacity="0.5"/><polygon points="747.0,925.5 733.8,964.0 773.5,952.0" fill="#b0d8f0" fill-opacity="0.35"/><polygon points="733.8,964.0 747.0,988.0 773.5,952.0" fill="#86b8dc" fill-opacity="0.4"/>
<polygon points="800.5,925.5 827.0,952.0 800.5,988.0 773.0,952.0" fill="#94c6e8" fill-opacity="0.8"/><polygon points="800.5,925.5 773.0,952.0 787.3,964.0" fill="#6e9fc8" fill-opacity="0.55"/><polygon points="773.0,952.0 787.3,964.0 800.5,988.0" fill="#6596bf" fill-opacity="0.5"/><polygon points="800.5,925.5 787.3,964.0 827.0,952.0" fill="#b0d8f0" fill-opacity="0.35"/><polygon points="787.3,964.0 800.5,988.0 827.0,952.0" fill="#86b8dc" fill-opacity="0.4"/>
<circle cx="773.0" cy="810" r="8.5" fill="url(#gTi2)" fill-opacity="0.8"/>
<circle cx="826.3" cy="810" r="8.5" fill="url(#gTi2)" fill-opacity="0.8"/>
<circle cx="747.0" cy="805" r="8.5" fill="url(#gTi2)" fill-opacity="0.8"/>
<circle cx="799.5" cy="805" r="8.5" fill="url(#gTi2)" fill-opacity="0.8"/>
<circle cx="760.5" cy="844" r="8.5" fill="url(#gTi2)" fill-opacity="0.8"/>
<circle cx="813.0" cy="844" r="8.5" fill="url(#gTi2)" fill-opacity="0.8"/>
<circle cx="786.0" cy="880.5" r="8.5" fill="url(#gTi2)" fill-opacity="0.8"/>
<circle cx="772.7" cy="917" r="8.5" fill="url(#gTi2)" fill-opacity="0.8"/>
<circle cx="798.0" cy="913" r="8.5" fill="url(#gTi2)" fill-opacity="0.8"/>
<circle cx="773.0" cy="960" r="8.5" fill="url(#gTi2)" fill-opacity="0.8"/>
<circle cx="826.3" cy="960" r="8.5" fill="url(#gTi2)" fill-opacity="0.8"/>
<circle cx="747.0" cy="955" r="8.5" fill="url(#gTi2)" fill-opacity="0.8"/>
<circle cx="799.5" cy="955" r="8.5" fill="url(#gTi2)" fill-opacity="0.8"/>
<circle cx="747.1" cy="775.2" r="6.6" fill="url(#gS)"/>
<circle cx="773.2" cy="775.6" r="6.6" fill="url(#gS)"/>
<circle cx="800.6" cy="775.2" r="6.6" fill="url(#gS)"/>
<circle cx="826.8" cy="775.6" r="6.6" fill="url(#gS)"/>
<circle cx="719.6" cy="800.2" r="4.6" fill="url(#gO)"/>
<circle cx="773.2" cy="800.2" r="4.6" fill="url(#gO)"/>
<circle cx="827.4" cy="800.2" r="4.6" fill="url(#gO)"/>
<circle cx="853.1" cy="800.8" r="4.6" fill="url(#gO)"/>
<circle cx="733.7" cy="812.9" r="4.6" fill="url(#gO)"/>
<circle cx="787.2" cy="812.9" r="4.6" fill="url(#gO)"/>
<circle cx="747.1" cy="837.7" r="4.6" fill="url(#gN)"/>
<circle cx="800.0" cy="837.7" r="4.6" fill="url(#gN)"/>
<circle cx="732.6" cy="851" r="4.6" fill="url(#gO)"/>
<circle cx="786.1" cy="851" r="4.6" fill="url(#gO)"/>
<circle cx="839.7" cy="851" r="4.6" fill="url(#gO)"/>
<circle cx="759.3" cy="875.6" r="4.6" fill="url(#gO)"/>
<circle cx="812.9" cy="875.6" r="4.6" fill="url(#gO)"/>
<circle cx="773.2" cy="887.9" r="4.6" fill="url(#gO)"/>
<circle cx="759.8" cy="912.9" r="4.6" fill="url(#gO)"/>
<circle cx="746.0" cy="925.6" r="6.6" fill="url(#gS)"/>
<circle cx="799.5" cy="925.6" r="6.6" fill="url(#gS)"/>
<circle cx="826.3" cy="926.3" r="6.6" fill="url(#gS)"/>
<circle cx="719.2" cy="950.8" r="4.6" fill="url(#gO)"/>
<circle cx="772.7" cy="950.8" r="4.6" fill="url(#gO)"/>
<circle cx="826.3" cy="950.4" r="4.6" fill="url(#gO)"/>
<circle cx="852.6" cy="950.8" r="4.6" fill="url(#gO)"/>
<circle cx="733.7" cy="962.7" r="4.6" fill="url(#gO)"/>
<circle cx="787.2" cy="962.7" r="4.6" fill="url(#gO)"/>
<circle cx="746.4" cy="988.1" r="4.6" fill="url(#gN)"/>
<circle cx="772.7" cy="988.1" r="4.6" fill="url(#gN)"/>
<circle cx="799.5" cy="988.1" r="4.6" fill="url(#gN)"/>
<circle cx="825.6" cy="988.1" r="4.6" fill="url(#gN)"/>
<path d="M617.3,907.3 L692.2,902 L692.2,895.4 L721.2,908 L692.2,920.5 L692.2,913.5 L617.3,909 Z" fill="url(#gArr)"/>
<text transform="translate(599.75,889.27) scale(0.18448,0.14894)" style="font-family:'Liberation Sans',sans-serif;font-weight:bold;font-size:100px" fill="#111" stroke="#111" stroke-width="1.80" stroke-linejoin="round" >Sulfur, Nitrogen</text>
<text transform="translate(640.66,934.15) scale(0.18447,0.16915)" style="font-family:'Liberation Sans',sans-serif;font-weight:bold;font-size:100px" fill="#111" stroke="#111" stroke-width="1.70" stroke-linejoin="round" >doping</text>
<line x1="662" y1="984" x2="662" y2="963" stroke="#1010e0" stroke-width="2.2"/>
<path d="M662,956.5 L658.4,965 L665.6,965 Z" fill="#1010e0"/>
<line x1="663" y1="984.7" x2="680" y2="984.7" stroke="#10d010" stroke-width="2.2"/>
<path d="M687.6,984.7 L679,981 L679,988.4 Z" fill="#10d010"/>
<line x1="653.6" y1="984.7" x2="661" y2="984.7" stroke="#c00000" stroke-width="1.6"/>
<circle cx="653.6" cy="984.7" r="3.4" fill="url(#gO)"/>
<circle cx="662" cy="985.2" r="2.8" fill="#eee" stroke="#999" stroke-width="0.6"/>
<text x="662" y="952" text-anchor="middle" style="font-family:'Liberation Sans',sans-serif;font-size:4px" fill="#333">c</text>
<text x="647" y="986" text-anchor="middle" style="font-family:'Liberation Sans',sans-serif;font-size:4px" fill="#333">a</text>
<text x="693" y="986.5" text-anchor="middle" style="font-family:'Liberation Sans',sans-serif;font-size:4px" fill="#333">b</text>
<circle cx="509.9" cy="1028.5" r="9.0" fill="url(#gTi)"/>
<circle cx="600.1" cy="1032.7" r="8.6" fill="url(#gO)"/>
<circle cx="697.3" cy="1032.7" r="8.6" fill="url(#gS)"/>
<circle cx="786.7" cy="1031.5" r="8.4" fill="url(#gN)"/>
<text transform="translate(527.47,1041.50) scale(0.26517,0.27536)" style="font-family:'Liberation Serif',serif;font-weight:bold;font-size:100px" fill="#111" stroke="#111" stroke-width="1.11" stroke-linejoin="round" >Ti</text>
<text transform="translate(625.52,1040.95) scale(0.27647,0.27612)" style="font-family:'Liberation Serif',serif;font-weight:bold;font-size:100px" fill="#111" stroke="#111" stroke-width="1.09" stroke-linejoin="round" >O</text>
<text transform="translate(722.41,1043.84) scale(0.27826,0.27761)" style="font-family:'Liberation Serif',serif;font-weight:bold;font-size:100px" fill="#111" stroke="#111" stroke-width="1.08" stroke-linejoin="round" >S</text>
<text transform="translate(809.28,1040.60) scale(0.25942,0.28769)" style="font-family:'Liberation Serif',serif;font-weight:bold;font-size:100px" fill="#111" stroke="#111" stroke-width="1.10" stroke-linejoin="round" >N</text>
<text transform="translate(457.30,763.18) scale(0.32456,0.32000)" style="font-family:'Liberation Serif',serif;font-weight:bold;font-size:100px" fill="#111" stroke="#111" stroke-width="0.93" stroke-linejoin="round" >(h)</text>
<path d="M49.8,969.9 L191.8,976.7 L204.3,976.9 L213.3,976.6 L219.3,975.8 L223.3,974.5 L226.8,971.9 L229.3,968.6 L231.8,963.3 L234.3,955.4 L236.3,946.9 L238.3,936.4 L244.8,894.3 L246.8,883.1 L248.8,875.5 L249.8,873.6 L250.8,873.1 L251.8,874.1 L252.8,876.5 L254.8,884.9 L262.8,936.9 L265.3,950.5 L267.3,959.1 L269.3,965.8 L271.8,971.8 L274.3,975.7 L277.8,979 L281.8,981.1 L288.3,982.8 L298.3,984.6 L311.3,986.3 L349.8,987.8 L413.8,988.2 L413.8,988.3 L350.3,988.2 L310.8,987.3 L279.8,984.6 L244.8,981 L149.8,975.2 L49.8,970Z" fill="#86d4aa" stroke="none" fill-opacity="0.88"/>
<path d="M49.8,969.5 L118.3,972.3 L138.8,972.6 L156.3,972.5 L167.8,971.9 L176.3,970.8 L182.3,969 L184.8,967.8 L187.3,966.1 L191.3,961.9 L194.8,956 L197.8,948.7 L200.8,938.9 L203.8,926.1 L206.8,910.4 L215.3,857 L218.3,840.4 L219.8,834 L221.3,829.5 L222.8,827.1 L223.8,826.7 L224.8,827.4 L226.3,830.3 L227.8,835.3 L229.3,842 L231.8,856.2 L240.8,913.7 L243.8,929.5 L246.8,942.5 L249.8,952.7 L253.3,961.4 L256.8,967.3 L258.8,969.8 L261.3,972.2 L264.3,974.4 L267.8,976.3 L272.3,978.1 L277.8,979.7 L291.3,982.5 L310.8,985.4 L350.3,987.3 L413.8,987.9 L413.8,988.3 L350.3,988.2 L310.8,987.3 L279.8,984.6 L244.8,981 L149.8,975.2 L49.8,970Z" fill="#f07d7d" stroke="none" fill-opacity="0.88"/>
<path d="M49.8,969.2 L94.3,970.6 L122.3,970.5 L132.8,969.9 L140.8,968.8 L146.8,967.5 L152.3,965.3 L156.3,963 L160.3,959.5 L163.8,955.3 L166.8,950.7 L169.8,945 L173.3,936.8 L184.3,906.8 L185.8,903.8 L187.3,901.6 L188.8,900.4 L189.8,900.1 L190.8,900.4 L192.3,901.7 L193.8,903.9 L195.3,907 L207.3,941 L210.8,949.2 L214.8,956.7 L218.8,962.3 L223.3,966.9 L228.3,970.4 L233.8,973 L239.3,974.8 L248.3,977.1 L264.3,980.3 L280.3,982.8 L310.8,986.2 L350.3,987.6 L413.8,988 L413.8,988.3 L350.3,988.2 L310.8,987.3 L279.8,984.6 L244.8,981 L149.8,975.2 L49.8,970Z" fill="#74b41c" stroke="none" fill-opacity="0.88"/>
<path d="M49.8,969.8 L174.3,975.9 L203.3,977 L218.8,977.2 L230.3,977 L238.3,976.3 L244.3,975 L249.3,973 L253.3,970 L256.8,965.9 L260.3,959.9 L263.3,953 L266.3,944.5 L275.3,913 L277.8,905.1 L279.3,901.4 L280.8,898.7 L282.3,897.2 L283.3,896.9 L284.3,897.2 L285.8,898.8 L287.3,901.7 L288.8,905.6 L291.8,915.5 L299.8,945.4 L302.8,954.8 L305.3,961.5 L307.8,966.9 L310.8,972.1 L313.8,975.8 L317.3,978.8 L321.8,981.3 L327.3,983.1 L334.8,984.5 L345.8,985.8 L370.3,987 L413.8,987.7 L413.8,988.3 L350.3,988.2 L310.8,987.3 L279.8,984.6 L244.8,981 L149.8,975.2 L49.8,970Z" fill="#b07ae0" stroke="none" fill-opacity="0.88"/>
<path d="M49.8,966 L149.8,972 L244.8,978.6 L279.8,982.5 L310.8,985.5 L350.3,986.7 L413.8,987.3 L413.8,988.3 L350.3,988.2 L310.8,987.3 L279.8,984.6 L244.8,981 L149.8,975.2 L49.8,970Z" fill="#74b41c" stroke="none" fill-opacity="0.9"/>
<path d="M49.8,970.8 L149.8,976 L244.8,981.8 L279.8,985.4 L310.8,988.1 L350.3,989 L413.8,989.1" fill="none" stroke="#111" stroke-width="1.6" stroke-linejoin="round" stroke-linecap="round" />
<path d="M50,970.1 L54.7,972.6 L58.3,977.4 L61.9,970.1 L65.5,972.6 L69.2,969 L72.8,971.4 L76.4,965.3 L86.1,962.9 L93.3,964.1 L105.4,961.7 L112.6,962.9 L117.5,960.5 L124.7,962.9 L129.5,958.1 L135.6,960.5 L139.2,953.2 L146.4,950.8 L151.3,943.6 L158.5,940 L163.4,931.5 L168.2,919.4 L171.8,904.9 L176.6,900.1 L180.3,885.6 L185.1,875.9 L188.7,861.4 L193.6,844.5 L197.2,839.7 L202,837.3 L205.6,827.6 L211.7,815.6 L218.9,796.2 L224.7,774.5 L228.3,770.9 L231.9,782.9 L235.5,779.3 L239.2,778.1 L244,796.2 L251.2,801.1 L259.7,830 L265.7,844.5 L273,851.8 L280.2,856.6 L285,866.3 L287.5,875.9 L304.4,926.7 L311.6,950.8 L318.9,965.3 L328.5,975 L338.2,979.8 L345.4,982.2 L355.1,990.7 L359.9,983.4 L369.6,984.6 L384.1,985.8 L398.6,988.2 L403.4,990.7 L413.5,987" fill="none" stroke="#111" stroke-width="1.8" stroke-linejoin="round" stroke-linecap="round" />
<path d="M50,965.8 C57.2,965.2 82,963.5 93.3,962.4 C104.5,961.3 109.5,960.8 117.5,959.3 C125.5,957.8 135.6,955.4 141.6,953.2 C147.6,951 149.7,950 153.7,946 C157.7,942 162.2,936 165.8,929.1 C169.4,922.2 172.2,914.2 175.4,904.9 C178.6,895.6 182.3,882.8 185.1,873.5 C187.9,864.2 189.9,854.4 192.3,849.4 C194.7,844.4 196.8,846.9 199.6,843.3 C202.4,839.7 206.1,835.5 209.3,827.6 C212.5,819.8 216.1,804.3 218.9,796.2 C221.7,788.1 223.4,780.8 226.2,778.8 C229,776.8 232,781.7 235.8,784.2 C239.6,786.7 245,787.8 248.8,793.8 C252.6,799.8 255.7,811.9 258.5,820.4 C261.3,828.9 263.3,838.7 265.7,844.5 C268.1,850.3 270.4,853.2 273,855.4 C275.6,857.6 279,855.6 281.4,857.8 C283.8,860 285.3,862.5 287.5,868.7 C289.7,875 291.9,885.2 294.7,895.3 C297.5,905.4 301.2,919.5 304.4,929.1 C307.6,938.8 310,946.6 314,953.2 C318,959.8 322.9,964.9 328.5,968.9 C334.1,972.9 338.6,975.2 347.9,977.4 C357.2,979.6 373.2,981 384.1,982.2 C395,983.4 408.6,984.2 413.5,984.6" fill="none" stroke="#1414e6" stroke-width="2.4" stroke-linejoin="round" stroke-linecap="round" />
<rect x="49.8" y="751" width="364.1" height="266.9" fill="none" stroke="#111" stroke-width="2.2"/>
<line x1="110.5" y1="1017.9" x2="110.5" y2="1012.9" stroke="#111" stroke-width="2.0" />
<line x1="171.2" y1="1017.9" x2="171.2" y2="1012.9" stroke="#111" stroke-width="2.0" />
<line x1="231.8" y1="1017.9" x2="231.8" y2="1012.9" stroke="#111" stroke-width="2.0" />
<line x1="292.5" y1="1017.9" x2="292.5" y2="1012.9" stroke="#111" stroke-width="2.0" />
<line x1="353.2" y1="1017.9" x2="353.2" y2="1012.9" stroke="#111" stroke-width="2.0" />
<line x1="80.1" y1="1017.9" x2="80.1" y2="1014.9" stroke="#111" stroke-width="2.0" />
<line x1="140.8" y1="1017.9" x2="140.8" y2="1014.9" stroke="#111" stroke-width="2.0" />
<line x1="201.5" y1="1017.9" x2="201.5" y2="1014.9" stroke="#111" stroke-width="2.0" />
<line x1="262.2" y1="1017.9" x2="262.2" y2="1014.9" stroke="#111" stroke-width="2.0" />
<line x1="322.9" y1="1017.9" x2="322.9" y2="1014.9" stroke="#111" stroke-width="2.0" />
<line x1="383.6" y1="1017.9" x2="383.6" y2="1014.9" stroke="#111" stroke-width="2.0" />
<text transform="translate(32.93,1041.64) scale(0.22800,0.22985)" style="font-family:'Liberation Serif',serif;font-weight:bold;font-size:100px" fill="#111" stroke="#111" stroke-width="1.31" stroke-linejoin="round" >406</text>
<text transform="translate(93.50,1041.64) scale(0.22800,0.22985)" style="font-family:'Liberation Serif',serif;font-weight:bold;font-size:100px" fill="#111" stroke="#111" stroke-width="1.31" stroke-linejoin="round" >404</text>
<text transform="translate(154.41,1041.64) scale(0.22800,0.22985)" style="font-family:'Liberation Serif',serif;font-weight:bold;font-size:100px" fill="#111" stroke="#111" stroke-width="1.31" stroke-linejoin="round" >402</text>
<text transform="translate(215.09,1041.64) scale(0.22800,0.22985)" style="font-family:'Liberation Serif',serif;font-weight:bold;font-size:100px" fill="#111" stroke="#111" stroke-width="1.31" stroke-linejoin="round" >400</text>
<text transform="translate(275.32,1041.64) scale(0.22800,0.22985)" style="font-family:'Liberation Serif',serif;font-weight:bold;font-size:100px" fill="#111" stroke="#111" stroke-width="1.31" stroke-linejoin="round" >398</text>
<text transform="translate(336.00,1041.64) scale(0.22800,0.22985)" style="font-family:'Liberation Serif',serif;font-weight:bold;font-size:100px" fill="#111" stroke="#111" stroke-width="1.31" stroke-linejoin="round" >396</text>
<text transform="translate(396.57,1041.64) scale(0.22800,0.22985)" style="font-family:'Liberation Serif',serif;font-weight:bold;font-size:100px" fill="#111" stroke="#111" stroke-width="1.31" stroke-linejoin="round" >394</text>
<text transform="translate(165.43,1065.71) scale(0.23415,0.20889)" style="font-family:'Liberation Serif',serif;font-weight:bold;font-size:100px" fill="#111" stroke="#111" stroke-width="1.35" stroke-linejoin="round" >Energy (keV)</text>
<text transform="translate(34.15,959.92) rotate(-90) scale(0.23883,0.21667)" style="font-family:'Liberation Serif',serif;font-weight:bold;font-size:100px" fill="#111" stroke="#111" stroke-width="1.32" stroke-linejoin="round" >Intensity (a.u.)</text>
<text transform="translate(10.84,755.31) scale(0.31389,0.30444)" style="font-family:'Liberation Serif',serif;font-weight:bold;font-size:100px" fill="#111" stroke="#111" stroke-width="0.97" stroke-linejoin="round" >(g)</text>
<text transform="translate(369.75,776.23) scale(0.17363,0.16567)" style="font-family:'Liberation Serif',serif;font-weight:bold;font-size:100px" fill="#111" stroke="#111" stroke-width="1.77" stroke-linejoin="round" >N 1s</text>
<text transform="translate(108.63,823.68) scale(0.16726,0.13889)" style="font-family:'Liberation Serif',serif;font-weight:bold;font-size:100px" fill="#111" stroke="#111" stroke-width="1.96" stroke-linejoin="round" >pyrrolic-N</text>
<text transform="translate(71.09,878.35) scale(0.16898,0.15000)" style="font-family:'Liberation Serif',serif;font-weight:bold;font-size:100px" fill="#111" stroke="#111" stroke-width="1.88" stroke-linejoin="round" >graphitic-N</text>
<text transform="translate(289.04,842.35) scale(0.16484,0.13556)" style="font-family:'Liberation Serif',serif;font-weight:bold;font-size:100px" fill="#111" stroke="#111" stroke-width="2.00" stroke-linejoin="round" >pyridinic-N</text>
<text transform="translate(341.97,882.70) scale(0.16636,0.16087)" style="font-family:'Liberation Serif',serif;font-weight:bold;font-size:100px" fill="#111" stroke="#111" stroke-width="1.83" stroke-linejoin="round" >Ti-N-Ti</text>
<line x1="165.3" y1="832.5" x2="202.4" y2="854.5" stroke="#111" stroke-width="1.8" />
<path d="M209.3,858.6 L199.4,857.6 L203.7,850.4 Z" fill="#111"/>
<line x1="123.5" y1="885.1" x2="163" y2="906.1" stroke="#111" stroke-width="1.8" />
<path d="M170.1,909.8 L160.2,909.3 L164.1,901.9 Z" fill="#111"/>
<line x1="319.3" y1="851.3" x2="266.9" y2="876.5" stroke="#111" stroke-width="1.8" />
<path d="M259.7,880 L266,872.3 L269.6,879.9 Z" fill="#111"/>
<line x1="345.4" y1="891.6" x2="309.3" y2="908.3" stroke="#111" stroke-width="1.8" />
<path d="M302,911.7 L308.4,904.1 L311.9,911.7 Z" fill="#111"/>
<path d="M963.4,784.2 C967.4,784.7 980,786.3 987.6,787.2 C995.2,788.1 999.5,789.1 1008.9,789.8 C1018.3,790.5 1031.3,790.8 1044.3,791.2 C1057.3,791.6 1071.8,791.9 1086.9,792.3 C1102,792.7 1122,793.4 1135,793.7 C1148,794 1152.4,794 1164.8,794.2 C1177.2,794.4 1194.7,794.9 1209.6,795.1 C1224.5,795.3 1243.2,795.5 1254.4,795.4 C1265.6,795.3 1268.1,794.3 1276.8,794.8 C1285.5,795.3 1300.3,797.9 1306.7,798.4 C1313.1,798.9 1313.5,798.1 1314.9,798" fill="none" stroke="#f07070" stroke-width="2.6" stroke-linejoin="round" stroke-linecap="round" />
<path d="M963.4,784.2 C967.4,784.8 980,786.8 987.6,787.9 C995.2,789 999.5,789.9 1008.9,790.6 C1018.3,791.3 1031.3,791.6 1044.3,792 C1057.3,792.4 1071.8,792.6 1086.9,793 C1102,793.4 1122,794.2 1135,794.4 C1148,794.6 1152.4,794.4 1164.8,794.2 C1177.2,794 1194.7,793.2 1209.6,793.2 C1224.5,793.2 1243.2,794.2 1254.4,794.3 C1265.6,794.4 1268.1,793.2 1276.8,793.6 C1285.5,794 1300.3,796.5 1306.7,796.9 C1313.1,797.3 1313.5,796.4 1314.9,796.3" fill="none" stroke="#62b41c" stroke-width="2.8" stroke-linejoin="round" stroke-linecap="round" />
<path d="M963.4,784.2 C965.1,785.2 969.4,788 973.4,789.9 C977.4,791.8 982.9,794.1 987.6,795.5 C992.3,796.9 997.1,797.4 1001.8,798.1 C1006.5,798.8 1008.9,798.9 1016,799.5 C1023.1,800.1 1034.8,800.8 1044.3,801.5 C1053.8,802.2 1063.2,802.7 1072.7,803.8 C1082.2,804.9 1093.2,806.8 1101.1,808.3 C1109,809.8 1114.4,810.8 1120,812.6 C1125.6,814.4 1129.9,816.8 1134.9,819.3 C1139.9,821.8 1145.4,825 1149.9,827.5 C1154.4,830 1158.1,832.3 1161.8,834.2 C1165.5,836.1 1168.1,837.7 1172.3,839 C1176.5,840.3 1181,841.4 1187.2,842 C1193.4,842.6 1195.9,842.5 1209.6,842.9 C1223.3,843.3 1251.9,844 1269.4,844.4 C1287,844.8 1307.3,845.2 1314.9,845.4" fill="none" stroke="#5b9ef0" stroke-width="2.8" stroke-linejoin="round" stroke-linecap="round" />
<line x1="1008.1" y1="798" x2="1084.8" y2="798" stroke="#111" stroke-width="2.2" stroke-dasharray="3.6,2.8"/>
<line x1="1007.4" y1="843.3" x2="1196.9" y2="843.3" stroke="#111" stroke-width="2.2" stroke-dasharray="3.6,2.8"/>
<line x1="1017.4" y1="805" x2="1017.4" y2="836.5" stroke="#111" stroke-width="1.6" />
<path d="M1017.4,798.8 L1014.2,807.5 L1020.6,807.5 Z" fill="#111"/>
<path d="M1017.4,842.5 L1014.2,833.8 L1020.6,833.8 Z" fill="#111"/>
<text transform="translate(973.41,828.50) scale(0.16291,0.15075)" style="font-family:'Liberation Serif',serif;font-weight:bold;font-size:100px" fill="#111" stroke="#111" stroke-width="1.91" stroke-linejoin="round" >6.3%</text>
<rect x="951" y="746.9" width="364.7" height="266.9" fill="none" stroke="#111" stroke-width="2.2"/>
<line x1="1042.2" y1="1013.8" x2="1042.2" y2="1008.8" stroke="#111" stroke-width="2.0" />
<line x1="1133.3" y1="1013.8" x2="1133.3" y2="1008.8" stroke="#111" stroke-width="2.0" />
<line x1="1224.5" y1="1013.8" x2="1224.5" y2="1008.8" stroke="#111" stroke-width="2.0" />
<line x1="996.6" y1="1013.8" x2="996.6" y2="1010.8" stroke="#111" stroke-width="2.0" />
<line x1="1087.8" y1="1013.8" x2="1087.8" y2="1010.8" stroke="#111" stroke-width="2.0" />
<line x1="1178.9" y1="1013.8" x2="1178.9" y2="1010.8" stroke="#111" stroke-width="2.0" />
<line x1="1270.1" y1="1013.8" x2="1270.1" y2="1010.8" stroke="#111" stroke-width="2.0" />
<line x1="951" y1="1013.8" x2="956" y2="1013.8" stroke="#111" stroke-width="2.0" />
<line x1="951" y1="937.3" x2="956" y2="937.3" stroke="#111" stroke-width="2.0" />
<line x1="951" y1="860.9" x2="956" y2="860.9" stroke="#111" stroke-width="2.0" />
<line x1="951" y1="784.4" x2="956" y2="784.4" stroke="#111" stroke-width="2.0" />
<line x1="951" y1="975.6" x2="954" y2="975.6" stroke="#111" stroke-width="2.0" />
<line x1="951" y1="899.1" x2="954" y2="899.1" stroke="#111" stroke-width="2.0" />
<line x1="951" y1="822.7" x2="954" y2="822.7" stroke="#111" stroke-width="2.0" />
<text transform="translate(945.55,1036.29) scale(0.21800,0.20597)" style="font-family:'Liberation Serif',serif;font-weight:bold;font-size:100px" fill="#111" stroke="#111" stroke-width="1.42" stroke-linejoin="round" >0</text>
<text transform="translate(1025.83,1036.29) scale(0.21800,0.20597)" style="font-family:'Liberation Serif',serif;font-weight:bold;font-size:100px" fill="#111" stroke="#111" stroke-width="1.42" stroke-linejoin="round" >200</text>
<text transform="translate(1117.33,1036.29) scale(0.21800,0.20597)" style="font-family:'Liberation Serif',serif;font-weight:bold;font-size:100px" fill="#111" stroke="#111" stroke-width="1.42" stroke-linejoin="round" >400</text>
<text transform="translate(1208.28,1036.29) scale(0.21800,0.20597)" style="font-family:'Liberation Serif',serif;font-weight:bold;font-size:100px" fill="#111" stroke="#111" stroke-width="1.42" stroke-linejoin="round" >600</text>
<text transform="translate(1299.46,1036.29) scale(0.21800,0.20597)" style="font-family:'Liberation Serif',serif;font-weight:bold;font-size:100px" fill="#111" stroke="#111" stroke-width="1.42" stroke-linejoin="round" >800</text>
<text transform="translate(915.53,790.55) scale(0.19500,0.19853)" style="font-family:'Liberation Serif',serif;font-weight:bold;font-size:100px" fill="#111" stroke="#111" stroke-width="1.52" stroke-linejoin="round" >100</text>
<text transform="translate(925.28,867.00) scale(0.19500,0.20149)" style="font-family:'Liberation Serif',serif;font-weight:bold;font-size:100px" fill="#111" stroke="#111" stroke-width="1.51" stroke-linejoin="round" >90</text>
<text transform="translate(925.28,943.45) scale(0.19500,0.20149)" style="font-family:'Liberation Serif',serif;font-weight:bold;font-size:100px" fill="#111" stroke="#111" stroke-width="1.51" stroke-linejoin="round" >80</text>
<text transform="translate(925.28,1019.90) scale(0.19500,0.20149)" style="font-family:'Liberation Serif',serif;font-weight:bold;font-size:100px" fill="#111" stroke="#111" stroke-width="1.51" stroke-linejoin="round" >70</text>
<text transform="translate(1039.75,1061.04) scale(0.22563,0.20778)" style="font-family:'Liberation Serif',serif;font-weight:bold;font-size:100px" fill="#111" stroke="#111" stroke-width="1.38" stroke-linejoin="round" >Temperature (°C)</text>
<text transform="translate(914.94,993.13) rotate(-90) scale(0.22895,0.22667)" style="font-family:'Liberation Serif',serif;font-weight:bold;font-size:100px" fill="#111" stroke="#111" stroke-width="1.32" stroke-linejoin="round" >Weight percentage (%)</text>
<text transform="translate(894.20,757.93) scale(0.30116,0.28889)" style="font-family:'Liberation Serif',serif;font-weight:bold;font-size:100px" fill="#111" stroke="#111" stroke-width="1.02" stroke-linejoin="round" >(i)</text>
<line x1="1191" y1="934.1" x2="1227" y2="934.1" stroke="#f07070" stroke-width="2.2" />
<line x1="1191" y1="956.6" x2="1227" y2="956.6" stroke="#62b41c" stroke-width="2.6" />
<line x1="1191" y1="979.1" x2="1227" y2="979.1" stroke="#5b9ef0" stroke-width="2.6" />
<text transform="translate(1230.40,941.17) scale(0.15051,0.16627)" style="font-family:'Liberation Serif',serif;font-weight:bold;font-size:100px" fill="#111" stroke="#111" stroke-width="1.89" stroke-linejoin="round" >TiO<tspan style="font-size:65%;baseline-shift:-22%">2</tspan></text>
<text transform="translate(1229.94,963.21) scale(0.15140,0.16386)" style="font-family:'Liberation Serif',serif;font-weight:bold;font-size:100px" fill="#111" stroke="#111" stroke-width="1.90" stroke-linejoin="round" >SN-TiO<tspan style="font-size:65%;baseline-shift:-22%">2</tspan></text>
<text transform="translate(1229.94,985.60) scale(0.15155,0.17108)" style="font-family:'Liberation Serif',serif;font-weight:bold;font-size:100px" fill="#111" stroke="#111" stroke-width="1.86" stroke-linejoin="round" >SN-TiO<tspan style="font-size:65%;baseline-shift:-22%">2</tspan>/C</text>
</svg>
</body></html>
